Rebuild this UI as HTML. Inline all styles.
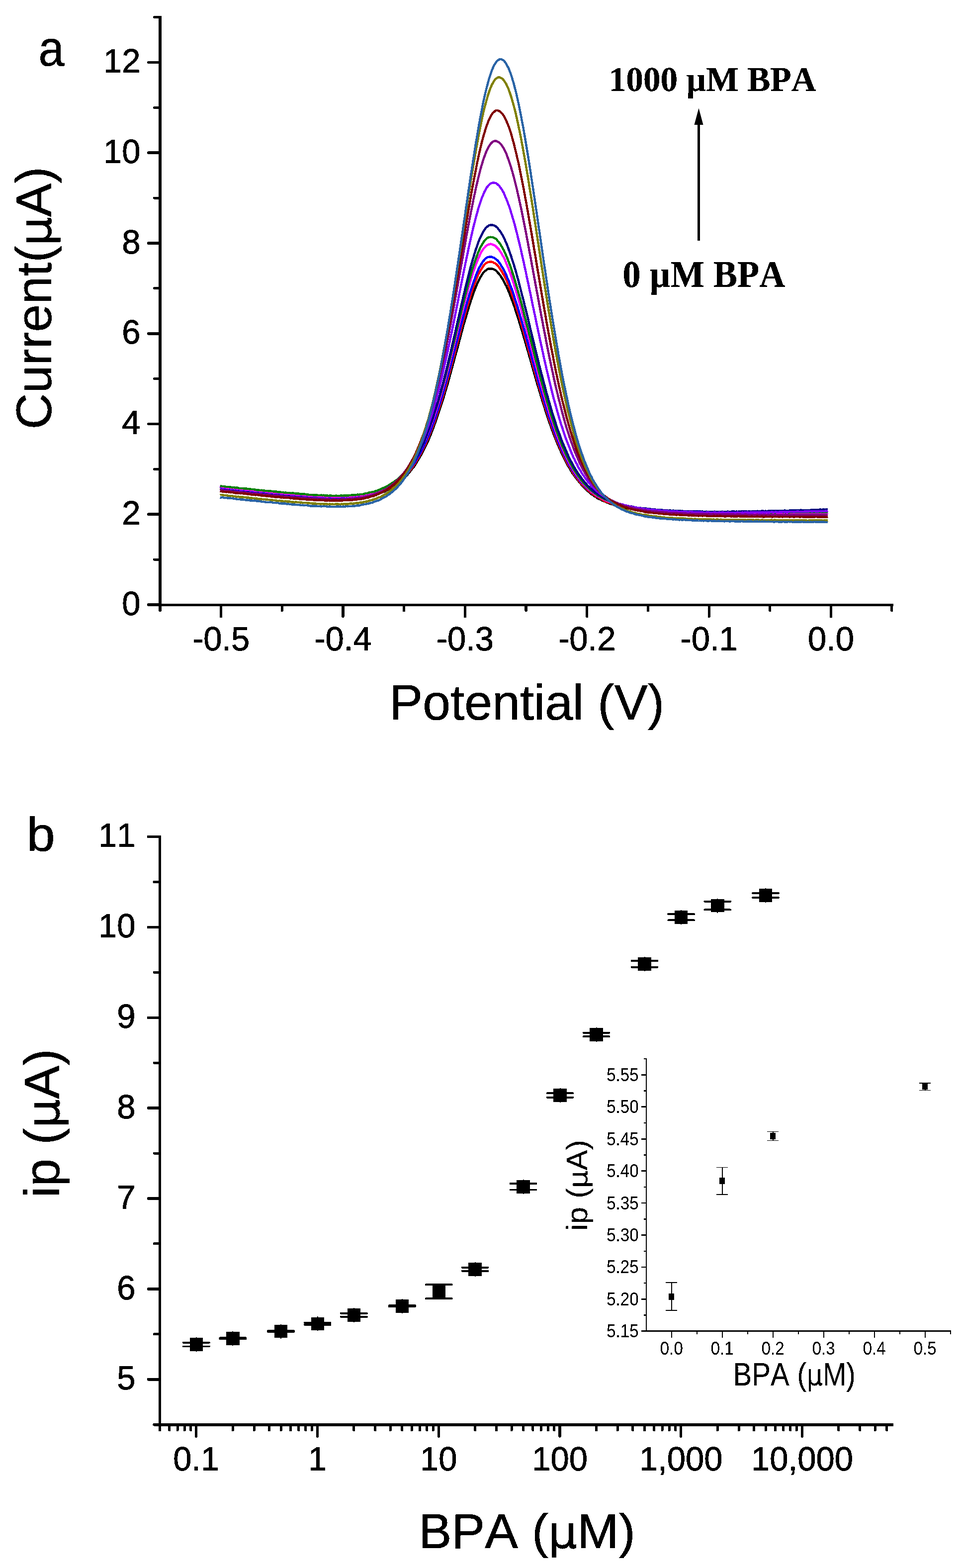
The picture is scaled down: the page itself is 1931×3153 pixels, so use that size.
<!DOCTYPE html>
<html lang="en"><head><meta charset="utf-8"><title>DPV response to BPA</title>
<style>
html,body{margin:0;padding:0;background:#fff;}
body{width:1931px;height:3153px;overflow:hidden;}
svg{display:block;font-family:"Liberation Sans",sans-serif;font-kerning:none;}
</style></head><body>
<svg width="1931" height="3153" viewBox="0 0 1931 3153">
<defs><filter id="al" x="0" y="0" width="1931" height="3153" filterUnits="userSpaceOnUse" color-interpolation-filters="sRGB"><feComponentTransfer><feFuncA type="discrete" tableValues="0 1"/></feComponentTransfer></filter></defs>
<rect width="1931" height="3153" fill="#fff"/>
<g shape-rendering="crispEdges">
<polyline fill="none" stroke="#000000" stroke-width="4.5" stroke-linejoin="round" points="442.6,983.1 445.1,983.3 447.5,984.0 449.9,983.7 452.4,984.4 454.8,984.5 457.3,984.5 459.7,985.1 462.2,984.9 464.6,985.6 467.1,985.5 469.5,985.8 472.0,986.3 474.4,986.9 476.9,986.6 479.3,986.9 481.8,987.5 484.2,988.1 486.7,988.0 489.1,988.1 491.6,988.9 494.0,988.3 496.5,989.3 498.9,989.0 501.4,989.1 503.8,989.3 506.3,989.8 508.7,990.5 511.2,990.1 513.6,990.8 516.1,991.1 518.5,991.1 521.0,991.5 523.4,991.3 525.9,991.5 528.4,991.9 530.8,992.6 533.3,992.6 535.7,992.7 538.2,993.2 540.6,993.4 543.1,993.5 545.5,994.1 548.0,994.3 550.4,994.1 552.9,994.7 555.3,994.9 557.8,995.4 560.2,995.5 562.7,995.3 565.1,996.2 567.6,995.7 570.0,996.2 572.5,996.7 574.9,996.4 577.4,996.9 579.8,996.7 582.3,997.5 584.7,997.8 587.2,997.8 589.6,998.3 592.1,998.0 594.5,998.6 597.0,998.7 599.4,998.9 601.9,999.0 604.3,999.6 606.8,999.8 609.2,999.6 611.7,1000.0 614.1,999.6 616.6,1000.4 619.0,1000.5 621.5,1001.0 623.9,1001.0 626.4,1000.7 628.8,1001.0 631.3,1001.4 633.7,1001.0 636.2,1001.5 638.6,1001.4 641.1,1001.5 643.5,1001.6 646.0,1002.4 648.4,1001.9 650.9,1002.1 653.3,1002.4 655.8,1002.9 658.2,1002.3 660.7,1002.7 663.1,1002.9 665.6,1003.3 668.0,1003.3 670.5,1003.4 672.9,1002.9 675.4,1003.1 677.8,1003.1 680.3,1003.5 682.7,1003.6 685.2,1002.9 687.6,1002.9 690.1,1002.9 692.5,1002.9 695.0,1003.0 697.4,1003.1 699.9,1002.7 702.3,1002.4 704.8,1002.6 707.2,1002.4 709.7,1002.5 712.1,1002.6 714.6,1002.2 717.0,1001.8 719.5,1001.7 721.9,1001.5 724.4,1000.7 726.8,1001.1 729.3,1000.7 731.7,1000.4 734.2,999.9 736.6,999.2 739.1,998.7 741.5,998.0 744.0,998.0 746.4,996.9 748.9,996.3 751.3,995.8 753.8,995.1 756.2,994.6 758.7,993.6 761.1,992.8 763.6,992.1 766.0,991.1 768.5,990.4 770.9,989.1 773.4,988.9 775.8,987.5 778.3,985.9 780.7,984.8 783.2,983.6 785.6,982.2 788.1,980.6 790.5,979.7 793.0,978.3 795.4,976.1 797.9,974.4 800.3,972.2 802.8,970.3 805.2,968.4 807.7,966.2 810.1,964.5 812.6,961.6 815.0,959.0 817.5,957.2 819.9,954.1 822.4,951.0 824.8,948.4 827.3,944.8 829.7,942.0 832.2,939.0 834.6,935.4 837.1,931.5 839.5,927.3 842.0,923.4 844.4,919.0 846.9,915.2 849.3,910.4 851.8,905.9 854.2,900.6 856.7,895.4 859.1,890.6 861.6,885.3 864.0,879.4 866.5,873.5 868.9,867.4 871.4,861.0 873.8,854.1 876.3,847.6 878.7,840.5 881.2,833.1 883.6,825.8 886.1,818.5 888.5,810.8 891.0,803.3 893.4,795.5 895.9,786.8 898.3,778.9 900.8,770.4 903.2,761.8 905.7,752.5 908.1,743.4 910.6,734.5 913.0,725.4 915.5,716.3 917.9,707.6 920.4,698.7 922.8,689.5 925.3,680.1 927.7,671.2 930.2,662.4 932.6,652.9 935.1,644.7 937.5,636.4 940.0,627.9 942.4,619.8 944.9,611.7 947.3,603.8 949.8,597.1 952.2,589.7 954.7,583.5 957.1,577.4 959.6,571.1 962.0,565.7 964.5,561.3 966.9,556.7 969.4,552.3 971.8,548.8 974.3,545.9 976.7,544.3 979.2,542.4 981.6,540.6 984.1,540.5 986.5,540.6 989.0,540.5 991.4,540.9 993.9,542.1 996.3,543.2 998.8,545.0 1001.2,548.3 1003.7,550.7 1006.1,553.8 1008.6,557.7 1011.0,561.2 1013.5,566.0 1015.9,570.6 1018.4,575.2 1020.8,580.6 1023.3,586.4 1025.7,592.3 1028.2,599.0 1030.6,605.3 1033.1,612.3 1035.5,619.1 1038.0,627.2 1040.4,634.2 1042.9,642.0 1045.3,650.0 1047.8,658.4 1050.2,666.1 1052.7,674.8 1055.1,682.8 1057.6,691.3 1060.0,699.8 1062.5,707.9 1064.9,716.9 1067.4,725.3 1069.8,733.7 1072.3,743.0 1074.7,751.0 1077.2,759.7 1079.6,768.4 1082.1,776.5 1084.5,784.6 1087.0,792.9 1089.4,801.0 1091.9,809.1 1094.3,816.3 1096.8,824.3 1099.2,831.6 1101.7,839.0 1104.1,846.6 1106.6,853.4 1109.0,860.3 1111.5,867.2 1113.9,873.8 1116.4,879.8 1118.8,886.1 1121.3,892.0 1123.7,897.8 1126.2,903.5 1128.6,908.8 1131.1,914.1 1133.5,919.1 1136.0,924.4 1138.4,928.9 1140.9,933.7 1143.3,938.1 1145.8,941.7 1148.2,946.0 1150.7,950.2 1153.1,953.9 1155.6,956.8 1158.0,960.2 1160.5,963.8 1162.9,966.6 1165.4,969.7 1167.8,972.4 1170.3,975.7 1172.7,978.4 1175.2,981.0 1177.6,982.7 1180.1,985.5 1182.5,987.6 1185.0,989.2 1187.4,991.9 1189.9,993.8 1192.3,994.9 1194.8,997.3 1197.2,998.4 1199.7,1000.0 1202.1,1001.9 1204.6,1003.2 1207.0,1003.9 1209.5,1005.4 1211.9,1006.7 1214.4,1007.6 1216.8,1008.6 1219.3,1009.7 1221.7,1011.1 1224.2,1011.4 1226.6,1012.8 1229.1,1013.5 1231.5,1013.9 1234.0,1015.0 1236.4,1016.0 1238.9,1016.6 1241.3,1016.8 1243.8,1018.3 1246.2,1018.7 1248.7,1019.5 1251.1,1019.3 1253.6,1019.9 1256.0,1020.3 1258.5,1021.4 1260.9,1021.4 1263.4,1021.7 1265.8,1022.4 1268.3,1023.3 1270.7,1023.6 1273.2,1023.4 1275.6,1023.7 1278.1,1024.8 1280.5,1024.8 1283.0,1025.2 1285.4,1025.0 1287.9,1025.2 1290.3,1026.1 1292.8,1026.1 1295.2,1026.1 1297.7,1027.1 1300.1,1027.1 1302.6,1027.4 1305.0,1027.0 1307.5,1027.9 1309.9,1027.4 1312.4,1028.3 1314.8,1028.2 1317.3,1028.3 1319.7,1028.6 1322.2,1029.1 1324.6,1028.7 1327.1,1028.7 1329.5,1029.3 1332.0,1029.1 1334.4,1029.2 1336.9,1029.4 1339.3,1029.4 1341.8,1029.7 1344.2,1029.9 1346.7,1030.0 1349.1,1030.5 1351.6,1030.2 1354.0,1030.5 1356.5,1030.3 1358.9,1030.6 1361.4,1030.4 1363.8,1030.7 1366.3,1030.6 1368.7,1031.3 1371.2,1031.2 1373.6,1031.0 1376.1,1031.3 1378.5,1031.8 1381.0,1031.1 1383.4,1031.8 1385.9,1031.6 1388.3,1031.7 1390.8,1032.1 1393.2,1031.7 1395.7,1031.9 1398.1,1032.1 1400.6,1032.4 1403.0,1031.9 1405.5,1032.4 1407.9,1032.3 1410.4,1032.3 1412.8,1032.2 1415.3,1032.2 1417.7,1031.9 1420.2,1032.1 1422.6,1032.0 1425.1,1032.7 1427.5,1032.3 1430.0,1032.3 1432.4,1032.2 1434.9,1032.9 1437.3,1033.0 1439.8,1032.9 1442.2,1032.5 1444.7,1032.5 1447.1,1032.6 1449.6,1032.8 1452.0,1032.6 1454.5,1032.9 1456.9,1032.7 1459.4,1033.4 1461.8,1033.4 1464.3,1033.1 1466.7,1032.8 1469.2,1033.5 1471.6,1032.9 1474.1,1033.0 1476.5,1032.7 1479.0,1033.1 1481.4,1033.2 1483.9,1033.2 1486.3,1033.0 1488.8,1033.3 1491.2,1032.9 1493.7,1033.1 1496.1,1033.0 1498.6,1033.3 1501.0,1033.0 1503.5,1033.0 1505.9,1033.3 1508.4,1033.2 1510.8,1033.6 1513.3,1033.5 1515.7,1033.7 1518.2,1033.7 1520.6,1033.8 1523.1,1033.9 1525.5,1033.5 1528.0,1033.5 1530.4,1034.1 1532.9,1033.3 1535.3,1033.9 1537.8,1033.8 1540.2,1033.3 1542.7,1034.0 1545.1,1034.1 1547.6,1033.9 1550.0,1034.0 1552.5,1034.1 1554.9,1033.5 1557.4,1033.8 1559.8,1033.8 1562.3,1034.2 1564.7,1034.1 1567.2,1034.2 1569.6,1034.0 1572.1,1034.3 1574.5,1034.1 1577.0,1034.1 1579.4,1033.7 1581.9,1033.6 1584.3,1033.7 1586.8,1033.9 1589.2,1033.7 1591.7,1034.3 1594.1,1034.1 1596.6,1034.2 1599.0,1034.2 1601.5,1034.3 1603.9,1034.1 1606.4,1033.7 1608.8,1034.4 1611.3,1034.4 1613.7,1034.2 1616.2,1034.2 1618.6,1034.3 1621.1,1033.8 1623.5,1034.4 1626.0,1034.0 1628.4,1033.9 1630.9,1034.1 1633.3,1034.5 1635.8,1034.0 1638.2,1034.5 1640.7,1034.8 1643.1,1034.3 1645.6,1034.3 1648.0,1034.4 1650.5,1034.6 1652.9,1034.7 1655.4,1034.5 1657.8,1034.6 1660.3,1034.1 1662.7,1034.2 1665.2,1034.3"/>
<polyline fill="none" stroke="#ff0000" stroke-width="4.5" stroke-linejoin="round" points="442.6,982.8 445.1,982.6 447.5,983.1 449.9,982.9 452.4,983.2 454.8,983.6 457.3,984.3 459.7,984.5 462.2,984.8 464.6,984.7 467.1,985.1 469.5,985.3 472.0,985.6 474.4,985.5 476.9,986.5 479.3,986.1 481.8,987.1 484.2,987.3 486.7,986.7 489.1,987.4 491.6,988.0 494.0,988.3 496.5,988.1 498.9,988.2 501.4,988.4 503.8,989.3 506.3,988.9 508.7,989.5 511.2,989.4 513.6,990.0 516.1,990.6 518.5,990.1 521.0,991.0 523.4,990.9 525.9,991.5 528.4,991.6 530.8,991.4 533.3,992.3 535.7,992.1 538.2,992.0 540.6,992.2 543.1,992.9 545.5,993.1 548.0,993.2 550.4,993.3 552.9,993.7 555.3,993.9 557.8,994.6 560.2,994.1 562.7,995.0 565.1,995.3 567.6,994.9 570.0,995.8 572.5,995.9 574.9,996.3 577.4,995.9 579.8,996.2 582.3,996.5 584.7,997.2 587.2,997.1 589.6,997.1 592.1,997.4 594.5,997.4 597.0,997.4 599.4,997.7 601.9,998.6 604.3,998.3 606.8,999.0 609.2,998.6 611.7,998.8 614.1,999.2 616.6,999.1 619.0,999.5 621.5,1000.2 623.9,1000.3 626.4,1000.4 628.8,1000.4 631.3,1000.8 633.7,1001.0 636.2,1000.8 638.6,1001.1 641.1,1000.6 643.5,1001.4 646.0,1001.2 648.4,1001.6 650.9,1001.7 653.3,1001.4 655.8,1001.3 658.2,1002.2 660.7,1001.6 663.1,1002.0 665.6,1001.9 668.0,1002.0 670.5,1002.4 672.9,1002.7 675.4,1002.1 677.8,1002.4 680.3,1002.1 682.7,1002.4 685.2,1002.2 687.6,1002.0 690.1,1001.9 692.5,1001.9 695.0,1002.5 697.4,1002.0 699.9,1001.7 702.3,1002.2 704.8,1002.2 707.2,1001.5 709.7,1001.1 712.1,1000.9 714.6,1000.7 717.0,1000.7 719.5,1000.2 721.9,1000.1 724.4,999.8 726.8,999.7 729.3,999.7 731.7,999.2 734.2,998.5 736.6,998.1 739.1,997.7 741.5,997.1 744.0,996.5 746.4,995.7 748.9,995.3 751.3,995.3 753.8,993.8 756.2,993.4 758.7,992.8 761.1,992.2 763.6,990.7 766.0,989.9 768.5,988.9 770.9,988.0 773.4,987.0 775.8,986.3 778.3,985.0 780.7,983.8 783.2,981.7 785.6,980.3 788.1,979.4 790.5,978.0 793.0,976.0 795.4,974.4 797.9,972.0 800.3,970.5 802.8,969.0 805.2,966.8 807.7,964.6 810.1,962.4 812.6,959.3 815.0,956.7 817.5,954.1 819.9,951.6 822.4,948.8 824.8,946.0 827.3,942.6 829.7,939.2 832.2,935.8 834.6,931.9 837.1,928.2 839.5,923.7 842.0,920.3 844.4,915.5 846.9,911.6 849.3,906.6 851.8,901.5 854.2,896.2 856.7,891.1 859.1,886.0 861.6,880.3 864.0,873.9 866.5,867.8 868.9,861.9 871.4,855.5 873.8,848.6 876.3,841.5 878.7,834.8 881.2,826.9 883.6,819.6 886.1,812.0 888.5,804.6 891.0,796.2 893.4,788.1 895.9,779.3 898.3,770.4 900.8,761.7 903.2,753.4 905.7,744.1 908.1,734.7 910.6,725.2 913.0,716.3 915.5,707.1 917.9,697.5 920.4,688.0 922.8,679.0 925.3,669.9 927.7,660.0 930.2,650.6 932.6,641.8 935.1,633.0 937.5,624.5 940.0,615.5 942.4,607.7 944.9,599.6 947.3,591.6 949.8,583.9 952.2,577.4 954.7,570.1 957.1,564.2 959.6,557.7 962.0,552.3 964.5,547.7 966.9,542.8 969.4,539.4 971.8,535.5 974.3,532.3 976.7,530.0 979.2,528.3 981.6,527.3 984.1,526.9 986.5,526.2 989.0,526.6 991.4,527.1 993.9,528.9 996.3,529.7 998.8,531.7 1001.2,534.1 1003.7,537.3 1006.1,541.0 1008.6,544.7 1011.0,548.6 1013.5,553.4 1015.9,558.2 1018.4,562.8 1020.8,568.3 1023.3,574.8 1025.7,580.9 1028.2,586.8 1030.6,594.1 1033.1,600.9 1035.5,608.2 1038.0,615.8 1040.4,623.4 1042.9,631.1 1045.3,639.5 1047.8,647.8 1050.2,656.8 1052.7,664.6 1055.1,673.9 1057.6,681.9 1060.0,690.8 1062.5,700.0 1064.9,708.9 1067.4,717.3 1069.8,725.8 1072.3,735.0 1074.7,743.6 1077.2,752.8 1079.6,760.8 1082.1,769.5 1084.5,778.5 1087.0,786.1 1089.4,794.7 1091.9,803.1 1094.3,811.1 1096.8,818.3 1099.2,826.0 1101.7,833.5 1104.1,841.7 1106.6,848.3 1109.0,855.8 1111.5,862.8 1113.9,868.9 1116.4,875.4 1118.8,882.3 1121.3,888.1 1123.7,893.7 1126.2,899.9 1128.6,905.1 1131.1,910.4 1133.5,915.4 1136.0,921.1 1138.4,926.1 1140.9,930.5 1143.3,935.2 1145.8,938.7 1148.2,943.0 1150.7,947.2 1153.1,951.4 1155.6,955.1 1158.0,958.1 1160.5,961.3 1162.9,964.7 1165.4,967.8 1167.8,971.1 1170.3,973.2 1172.7,976.5 1175.2,978.9 1177.6,981.4 1180.1,983.7 1182.5,985.8 1185.0,987.6 1187.4,989.6 1189.9,991.6 1192.3,993.7 1194.8,994.8 1197.2,996.6 1199.7,998.7 1202.1,999.7 1204.6,1000.9 1207.0,1002.3 1209.5,1004.0 1211.9,1005.0 1214.4,1006.8 1216.8,1007.8 1219.3,1008.9 1221.7,1009.3 1224.2,1010.1 1226.6,1011.0 1229.1,1012.2 1231.5,1013.2 1234.0,1013.8 1236.4,1014.3 1238.9,1015.2 1241.3,1016.0 1243.8,1016.7 1246.2,1017.4 1248.7,1018.1 1251.1,1018.5 1253.6,1018.6 1256.0,1019.7 1258.5,1019.7 1260.9,1020.4 1263.4,1020.7 1265.8,1021.5 1268.3,1021.4 1270.7,1021.8 1273.2,1022.2 1275.6,1022.5 1278.1,1023.5 1280.5,1023.6 1283.0,1023.7 1285.4,1024.0 1287.9,1024.9 1290.3,1024.7 1292.8,1024.7 1295.2,1025.5 1297.7,1025.6 1300.1,1026.2 1302.6,1025.6 1305.0,1026.2 1307.5,1026.7 1309.9,1026.9 1312.4,1027.2 1314.8,1026.6 1317.3,1027.0 1319.7,1027.1 1322.2,1027.3 1324.6,1028.2 1327.1,1028.0 1329.5,1028.5 1332.0,1028.1 1334.4,1028.7 1336.9,1028.5 1339.3,1028.4 1341.8,1029.0 1344.2,1029.3 1346.7,1028.7 1349.1,1029.2 1351.6,1029.4 1354.0,1029.1 1356.5,1029.3 1358.9,1029.2 1361.4,1029.4 1363.8,1029.5 1366.3,1029.9 1368.7,1030.1 1371.2,1029.8 1373.6,1029.7 1376.1,1030.0 1378.5,1030.4 1381.0,1030.1 1383.4,1030.2 1385.9,1030.2 1388.3,1030.8 1390.8,1030.7 1393.2,1030.3 1395.7,1030.4 1398.1,1030.7 1400.6,1030.9 1403.0,1031.0 1405.5,1030.6 1407.9,1030.7 1410.4,1031.2 1412.8,1031.0 1415.3,1030.9 1417.7,1031.0 1420.2,1031.6 1422.6,1031.1 1425.1,1031.4 1427.5,1031.2 1430.0,1031.3 1432.4,1031.7 1434.9,1031.9 1437.3,1031.4 1439.8,1031.2 1442.2,1031.8 1444.7,1031.3 1447.1,1031.2 1449.6,1032.0 1452.0,1031.6 1454.5,1032.0 1456.9,1031.6 1459.4,1032.1 1461.8,1031.7 1464.3,1031.5 1466.7,1031.4 1469.2,1031.9 1471.6,1032.0 1474.1,1032.2 1476.5,1031.5 1479.0,1032.0 1481.4,1031.8 1483.9,1031.9 1486.3,1031.6 1488.8,1031.8 1491.2,1032.0 1493.7,1032.4 1496.1,1031.7 1498.6,1032.0 1501.0,1032.3 1503.5,1032.5 1505.9,1031.8 1508.4,1031.7 1510.8,1032.5 1513.3,1032.5 1515.7,1032.1 1518.2,1031.7 1520.6,1032.5 1523.1,1032.0 1525.5,1032.5 1528.0,1032.3 1530.4,1032.5 1532.9,1031.9 1535.3,1032.4 1537.8,1031.9 1540.2,1032.1 1542.7,1032.5 1545.1,1032.5 1547.6,1031.9 1550.0,1032.0 1552.5,1032.1 1554.9,1032.2 1557.4,1032.1 1559.8,1031.9 1562.3,1032.0 1564.7,1032.5 1567.2,1032.6 1569.6,1031.8 1572.1,1032.3 1574.5,1032.5 1577.0,1031.9 1579.4,1032.6 1581.9,1031.9 1584.3,1032.4 1586.8,1032.3 1589.2,1032.4 1591.7,1032.1 1594.1,1032.2 1596.6,1032.4 1599.0,1032.2 1601.5,1032.5 1603.9,1032.3 1606.4,1032.3 1608.8,1031.9 1611.3,1032.4 1613.7,1032.3 1616.2,1032.1 1618.6,1032.6 1621.1,1032.6 1623.5,1032.3 1626.0,1032.0 1628.4,1032.3 1630.9,1032.0 1633.3,1032.0 1635.8,1032.3 1638.2,1032.0 1640.7,1032.3 1643.1,1032.4 1645.6,1031.9 1648.0,1032.5 1650.5,1032.0 1652.9,1032.6 1655.4,1032.6 1657.8,1032.4 1660.3,1032.0 1662.7,1032.4 1665.2,1032.3"/>
<polyline fill="none" stroke="#0000ff" stroke-width="4.5" stroke-linejoin="round" points="442.6,981.5 445.1,981.0 447.5,981.9 449.9,982.3 452.4,982.3 454.8,982.7 457.3,982.4 459.7,983.3 462.2,983.1 464.6,983.8 467.1,984.0 469.5,983.6 472.0,984.4 474.4,984.8 476.9,984.3 479.3,984.8 481.8,985.4 484.2,985.1 486.7,986.1 489.1,985.7 491.6,986.5 494.0,986.1 496.5,986.7 498.9,987.3 501.4,986.9 503.8,987.2 506.3,987.7 508.7,987.8 511.2,987.8 513.6,988.2 516.1,988.4 518.5,989.3 521.0,989.4 523.4,989.8 525.9,989.4 528.4,990.2 530.8,989.8 533.3,990.5 535.7,990.8 538.2,990.8 540.6,991.5 543.1,991.4 545.5,991.7 548.0,992.2 550.4,991.8 552.9,992.8 555.3,992.7 557.8,992.7 560.2,993.3 562.7,993.1 565.1,994.0 567.6,993.8 570.0,993.9 572.5,994.4 574.9,994.4 577.4,994.4 579.8,995.1 582.3,994.7 584.7,995.6 587.2,995.3 589.6,995.9 592.1,996.4 594.5,996.2 597.0,996.5 599.4,996.4 601.9,996.3 604.3,996.5 606.8,996.8 609.2,997.5 611.7,997.5 614.1,997.7 616.6,998.3 619.0,997.8 621.5,998.0 623.9,998.6 626.4,998.2 628.8,998.3 631.3,998.8 633.7,998.7 636.2,999.1 638.6,999.1 641.1,999.6 643.5,999.7 646.0,999.5 648.4,1000.0 650.9,1000.0 653.3,999.8 655.8,1000.6 658.2,1000.1 660.7,1000.1 663.1,1000.1 665.6,1000.7 668.0,1000.9 670.5,1000.9 672.9,1000.6 675.4,1000.5 677.8,1000.3 680.3,1000.9 682.7,1000.8 685.2,1000.6 687.6,1000.8 690.1,1000.6 692.5,1001.0 695.0,1000.8 697.4,1000.2 699.9,1000.7 702.3,999.8 704.8,1000.2 707.2,999.9 709.7,999.6 712.1,999.2 714.6,999.7 717.0,998.7 719.5,999.0 721.9,999.0 724.4,998.0 726.8,997.8 729.3,997.8 731.7,997.3 734.2,997.0 736.6,996.7 739.1,995.7 741.5,995.3 744.0,994.8 746.4,994.0 748.9,994.1 751.3,993.3 753.8,992.6 756.2,991.2 758.7,991.2 761.1,990.3 763.6,989.2 766.0,988.5 768.5,987.2 770.9,986.0 773.4,984.8 775.8,983.7 778.3,982.4 780.7,981.3 783.2,980.4 785.6,978.9 788.1,977.5 790.5,975.8 793.0,973.7 795.4,972.3 797.9,970.3 800.3,968.7 802.8,966.4 805.2,964.1 807.7,962.2 810.1,960.1 812.6,957.0 815.0,955.0 817.5,951.5 819.9,948.9 822.4,945.9 824.8,943.2 827.3,940.2 829.7,936.6 832.2,932.7 834.6,929.4 837.1,925.1 839.5,920.9 842.0,917.3 844.4,912.7 846.9,908.1 849.3,903.4 851.8,898.7 854.2,893.0 856.7,888.0 859.1,882.3 861.6,876.7 864.0,870.3 866.5,864.4 868.9,857.8 871.4,851.0 873.8,844.1 876.3,837.4 878.7,829.6 881.2,822.9 883.6,814.6 886.1,806.6 888.5,798.6 891.0,791.1 893.4,782.1 895.9,773.3 898.3,764.4 900.8,755.5 903.2,747.0 905.7,737.8 908.1,728.5 910.6,719.2 913.0,709.1 915.5,700.1 917.9,690.4 920.4,681.2 922.8,671.7 925.3,662.2 927.7,652.1 930.2,643.5 932.6,634.3 935.1,625.2 937.5,615.6 940.0,607.0 942.4,598.4 944.9,590.1 947.3,583.0 949.8,575.3 952.2,567.9 954.7,561.3 957.1,554.6 959.6,548.3 962.0,542.5 964.5,537.4 966.9,533.4 969.4,528.9 971.8,525.4 974.3,522.5 976.7,519.8 979.2,518.1 981.6,516.9 984.1,516.6 986.5,516.3 989.0,516.5 991.4,517.7 993.9,518.4 996.3,520.3 998.8,522.1 1001.2,524.1 1003.7,527.3 1006.1,530.7 1008.6,534.8 1011.0,538.5 1013.5,543.4 1015.9,548.2 1018.4,553.2 1020.8,559.4 1023.3,564.7 1025.7,571.7 1028.2,577.8 1030.6,584.5 1033.1,591.9 1035.5,599.8 1038.0,607.7 1040.4,614.7 1042.9,623.2 1045.3,631.5 1047.8,640.1 1050.2,648.1 1052.7,657.1 1055.1,665.7 1057.6,675.0 1060.0,683.4 1062.5,692.9 1064.9,701.3 1067.4,710.2 1069.8,719.6 1072.3,728.4 1074.7,736.9 1077.2,746.2 1079.6,754.5 1082.1,763.9 1084.5,772.4 1087.0,781.0 1089.4,789.2 1091.9,797.2 1094.3,805.4 1096.8,813.4 1099.2,821.6 1101.7,828.6 1104.1,836.8 1106.6,843.3 1109.0,850.7 1111.5,857.7 1113.9,865.0 1116.4,871.3 1118.8,877.6 1121.3,884.3 1123.7,889.7 1126.2,895.8 1128.6,901.5 1131.1,907.2 1133.5,912.4 1136.0,917.4 1138.4,922.1 1140.9,926.8 1143.3,931.2 1145.8,936.2 1148.2,940.2 1150.7,944.3 1153.1,947.7 1155.6,951.6 1158.0,955.5 1160.5,958.7 1162.9,961.5 1165.4,964.9 1167.8,968.3 1170.3,970.5 1172.7,973.2 1175.2,975.9 1177.6,978.7 1180.1,981.2 1182.5,982.8 1185.0,984.9 1187.4,987.0 1189.9,989.0 1192.3,991.1 1194.8,992.5 1197.2,994.3 1199.7,995.8 1202.1,998.0 1204.6,999.2 1207.0,1000.0 1209.5,1002.0 1211.9,1002.5 1214.4,1003.9 1216.8,1005.6 1219.3,1006.5 1221.7,1007.4 1224.2,1008.1 1226.6,1008.8 1229.1,1010.1 1231.5,1010.4 1234.0,1011.3 1236.4,1012.2 1238.9,1012.6 1241.3,1013.7 1243.8,1014.7 1246.2,1015.2 1248.7,1015.6 1251.1,1016.3 1253.6,1016.7 1256.0,1016.9 1258.5,1017.8 1260.9,1018.1 1263.4,1018.9 1265.8,1019.5 1268.3,1019.5 1270.7,1020.0 1273.2,1020.5 1275.6,1020.6 1278.1,1020.8 1280.5,1021.6 1283.0,1022.0 1285.4,1022.3 1287.9,1022.5 1290.3,1022.9 1292.8,1023.0 1295.2,1023.3 1297.7,1023.4 1300.1,1023.5 1302.6,1024.0 1305.0,1023.7 1307.5,1024.3 1309.9,1024.8 1312.4,1024.9 1314.8,1025.1 1317.3,1024.9 1319.7,1025.2 1322.2,1025.4 1324.6,1025.8 1327.1,1025.7 1329.5,1026.1 1332.0,1026.5 1334.4,1026.0 1336.9,1026.6 1339.3,1026.8 1341.8,1026.6 1344.2,1026.8 1346.7,1027.4 1349.1,1026.6 1351.6,1027.2 1354.0,1027.0 1356.5,1027.6 1358.9,1027.9 1361.4,1027.6 1363.8,1027.3 1366.3,1027.8 1368.7,1027.9 1371.2,1028.1 1373.6,1028.0 1376.1,1028.2 1378.5,1028.5 1381.0,1028.3 1383.4,1028.3 1385.9,1028.8 1388.3,1028.2 1390.8,1028.7 1393.2,1028.5 1395.7,1028.9 1398.1,1028.4 1400.6,1029.2 1403.0,1028.7 1405.5,1028.5 1407.9,1028.7 1410.4,1028.9 1412.8,1028.6 1415.3,1029.0 1417.7,1029.0 1420.2,1029.3 1422.6,1029.1 1425.1,1029.0 1427.5,1029.0 1430.0,1029.5 1432.4,1029.7 1434.9,1029.4 1437.3,1029.2 1439.8,1029.7 1442.2,1029.4 1444.7,1029.3 1447.1,1029.2 1449.6,1029.8 1452.0,1029.9 1454.5,1029.7 1456.9,1029.6 1459.4,1029.7 1461.8,1029.4 1464.3,1030.1 1466.7,1029.6 1469.2,1029.9 1471.6,1030.1 1474.1,1030.1 1476.5,1029.8 1479.0,1029.6 1481.4,1029.9 1483.9,1029.5 1486.3,1030.2 1488.8,1029.8 1491.2,1030.2 1493.7,1029.7 1496.1,1029.8 1498.6,1029.7 1501.0,1029.9 1503.5,1029.7 1505.9,1029.5 1508.4,1030.2 1510.8,1029.8 1513.3,1029.8 1515.7,1029.9 1518.2,1030.0 1520.6,1030.0 1523.1,1030.2 1525.5,1030.2 1528.0,1030.0 1530.4,1030.5 1532.9,1030.4 1535.3,1029.7 1537.8,1030.4 1540.2,1030.5 1542.7,1030.4 1545.1,1029.8 1547.6,1030.4 1550.0,1030.3 1552.5,1029.7 1554.9,1029.7 1557.4,1030.6 1559.8,1030.3 1562.3,1030.0 1564.7,1029.8 1567.2,1029.9 1569.6,1030.0 1572.1,1030.5 1574.5,1030.1 1577.0,1029.9 1579.4,1030.6 1581.9,1030.5 1584.3,1029.9 1586.8,1030.6 1589.2,1030.3 1591.7,1030.5 1594.1,1030.4 1596.6,1030.6 1599.0,1030.5 1601.5,1030.6 1603.9,1030.0 1606.4,1030.4 1608.8,1030.3 1611.3,1030.5 1613.7,1030.2 1616.2,1030.6 1618.6,1030.3 1621.1,1030.1 1623.5,1030.0 1626.0,1029.9 1628.4,1030.3 1630.9,1029.9 1633.3,1030.2 1635.8,1030.0 1638.2,1030.3 1640.7,1030.3 1643.1,1030.3 1645.6,1030.6 1648.0,1029.8 1650.5,1030.6 1652.9,1030.3 1655.4,1030.3 1657.8,1030.4 1660.3,1030.6 1662.7,1030.2 1665.2,1030.2"/>
<polyline fill="none" stroke="#ff00ff" stroke-width="4.5" stroke-linejoin="round" points="442.6,979.5 445.1,979.0 447.5,979.7 449.9,980.0 452.4,979.7 454.8,980.5 457.3,980.8 459.7,981.3 462.2,981.0 464.6,981.8 467.1,981.7 469.5,981.9 472.0,982.5 474.4,982.0 476.9,982.9 479.3,983.0 481.8,983.0 484.2,983.8 486.7,983.6 489.1,983.9 491.6,984.2 494.0,984.7 496.5,984.4 498.9,984.9 501.4,985.1 503.8,985.5 506.3,986.0 508.7,985.8 511.2,986.5 513.6,986.4 516.1,986.7 518.5,986.7 521.0,987.2 523.4,987.9 525.9,987.8 528.4,988.2 530.8,988.0 533.3,988.3 535.7,988.5 538.2,989.0 540.6,989.3 543.1,989.6 545.5,989.2 548.0,990.1 550.4,990.4 552.9,990.4 555.3,990.2 557.8,990.6 560.2,990.6 562.7,991.0 565.1,991.9 567.6,991.8 570.0,992.1 572.5,992.4 574.9,992.8 577.4,992.7 579.8,992.9 582.3,993.2 584.7,993.5 587.2,993.6 589.6,993.9 592.1,993.7 594.5,994.3 597.0,994.3 599.4,994.8 601.9,994.4 604.3,994.6 606.8,994.7 609.2,995.6 611.7,995.9 614.1,995.8 616.6,995.7 619.0,996.3 621.5,996.5 623.9,996.4 626.4,996.3 628.8,996.5 631.3,996.8 633.7,996.8 636.2,997.1 638.6,997.4 641.1,997.8 643.5,997.2 646.0,997.7 648.4,997.4 650.9,997.6 653.3,998.3 655.8,998.2 658.2,998.6 660.7,998.2 663.1,997.9 665.6,998.3 668.0,998.5 670.5,998.9 672.9,999.0 675.4,998.5 677.8,998.5 680.3,998.2 682.7,998.7 685.2,998.3 687.6,998.2 690.1,998.0 692.5,998.0 695.0,998.5 697.4,997.9 699.9,998.5 702.3,997.6 704.8,998.2 707.2,997.4 709.7,997.1 712.1,997.5 714.6,996.9 717.0,997.1 719.5,996.3 721.9,995.9 724.4,996.2 726.8,995.8 729.3,995.6 731.7,995.1 734.2,994.1 736.6,994.1 739.1,993.7 741.5,992.9 744.0,992.8 746.4,991.6 748.9,991.6 751.3,990.7 753.8,989.3 756.2,988.6 758.7,988.3 761.1,987.6 763.6,986.1 766.0,985.3 768.5,984.7 770.9,983.1 773.4,982.6 775.8,981.0 778.3,979.4 780.7,978.3 783.2,977.1 785.6,975.5 788.1,974.2 790.5,972.1 793.0,970.9 795.4,968.7 797.9,967.1 800.3,965.0 802.8,962.7 805.2,960.5 807.7,958.5 810.1,956.2 812.6,953.5 815.0,950.7 817.5,947.6 819.9,944.4 822.4,942.2 824.8,938.7 827.3,935.4 829.7,931.5 832.2,928.0 834.6,924.5 837.1,920.3 839.5,915.9 842.0,911.2 844.4,906.7 846.9,902.4 849.3,896.9 851.8,892.0 854.2,886.6 856.7,881.2 859.1,875.4 861.6,868.9 864.0,862.4 866.5,856.1 868.9,849.6 871.4,842.8 873.8,835.9 876.3,828.6 878.7,820.2 881.2,813.2 883.6,805.1 886.1,796.9 888.5,788.2 891.0,779.3 893.4,771.0 895.9,762.0 898.3,752.7 900.8,743.6 903.2,733.6 905.7,723.8 908.1,714.5 910.6,704.9 913.0,694.4 915.5,685.0 917.9,675.2 920.4,664.6 922.8,654.9 925.3,645.0 927.7,635.0 930.2,625.0 932.6,615.3 935.1,606.3 937.5,597.0 940.0,587.6 942.4,578.3 944.9,570.4 947.3,562.0 949.8,553.6 952.2,546.2 954.7,539.3 957.1,532.5 959.6,525.8 962.0,519.8 964.5,514.5 966.9,509.3 969.4,504.9 971.8,501.1 974.3,498.3 976.7,495.4 979.2,493.5 981.6,492.0 984.1,491.3 986.5,490.7 989.0,490.8 991.4,492.3 993.9,492.9 996.3,494.2 998.8,496.7 1001.2,499.4 1003.7,501.8 1006.1,505.6 1008.6,509.3 1011.0,513.7 1013.5,518.0 1015.9,523.2 1018.4,529.5 1020.8,535.3 1023.3,541.2 1025.7,547.9 1028.2,554.6 1030.6,562.3 1033.1,569.5 1035.5,577.7 1038.0,585.6 1040.4,593.9 1042.9,602.5 1045.3,610.6 1047.8,619.2 1050.2,628.3 1052.7,637.4 1055.1,646.5 1057.6,655.8 1060.0,665.6 1062.5,675.3 1064.9,684.4 1067.4,694.3 1069.8,703.7 1072.3,712.4 1074.7,722.3 1077.2,731.4 1079.6,740.4 1082.1,750.4 1084.5,758.8 1087.0,768.1 1089.4,777.0 1091.9,786.0 1094.3,794.3 1096.8,802.5 1099.2,810.8 1101.7,818.7 1104.1,827.3 1106.6,835.1 1109.0,842.0 1111.5,849.2 1113.9,856.6 1116.4,863.6 1118.8,870.9 1121.3,877.5 1123.7,883.8 1126.2,889.3 1128.6,896.0 1131.1,901.7 1133.5,907.2 1136.0,912.9 1138.4,917.2 1140.9,922.3 1143.3,927.7 1145.8,932.5 1148.2,936.7 1150.7,940.6 1153.1,945.0 1155.6,949.0 1158.0,952.2 1160.5,956.0 1162.9,959.4 1165.4,962.5 1167.8,966.0 1170.3,968.7 1172.7,971.6 1175.2,974.3 1177.6,977.3 1180.1,979.2 1182.5,982.2 1185.0,984.0 1187.4,986.0 1189.9,988.8 1192.3,990.1 1194.8,992.6 1197.2,994.3 1199.7,996.0 1202.1,996.9 1204.6,998.7 1207.0,999.8 1209.5,1001.9 1211.9,1003.1 1214.4,1004.2 1216.8,1005.2 1219.3,1006.2 1221.7,1007.7 1224.2,1008.4 1226.6,1009.5 1229.1,1010.0 1231.5,1010.9 1234.0,1011.6 1236.4,1013.0 1238.9,1013.6 1241.3,1013.9 1243.8,1015.2 1246.2,1015.4 1248.7,1016.1 1251.1,1016.5 1253.6,1017.1 1256.0,1018.2 1258.5,1018.3 1260.9,1018.6 1263.4,1019.4 1265.8,1019.7 1268.3,1020.6 1270.7,1020.3 1273.2,1021.5 1275.6,1021.1 1278.1,1022.2 1280.5,1022.3 1283.0,1022.2 1285.4,1022.8 1287.9,1022.9 1290.3,1023.2 1292.8,1023.5 1295.2,1023.9 1297.7,1024.7 1300.1,1025.0 1302.6,1025.1 1305.0,1024.6 1307.5,1025.0 1309.9,1025.8 1312.4,1025.3 1314.8,1026.1 1317.3,1025.9 1319.7,1026.7 1322.2,1026.0 1324.6,1026.9 1327.1,1026.6 1329.5,1026.6 1332.0,1026.6 1334.4,1027.5 1336.9,1027.4 1339.3,1027.2 1341.8,1027.6 1344.2,1028.2 1346.7,1027.7 1349.1,1028.1 1351.6,1027.8 1354.0,1028.0 1356.5,1028.6 1358.9,1028.7 1361.4,1028.3 1363.8,1028.3 1366.3,1028.4 1368.7,1029.0 1371.2,1029.0 1373.6,1028.8 1376.1,1028.9 1378.5,1029.3 1381.0,1029.5 1383.4,1029.6 1385.9,1029.5 1388.3,1029.2 1390.8,1029.2 1393.2,1029.8 1395.7,1029.6 1398.1,1030.0 1400.6,1029.4 1403.0,1030.1 1405.5,1029.8 1407.9,1030.3 1410.4,1030.4 1412.8,1030.1 1415.3,1029.7 1417.7,1030.5 1420.2,1030.2 1422.6,1030.6 1425.1,1030.1 1427.5,1030.1 1430.0,1030.7 1432.4,1030.3 1434.9,1030.1 1437.3,1030.4 1439.8,1030.6 1442.2,1030.1 1444.7,1030.6 1447.1,1030.6 1449.6,1030.7 1452.0,1030.3 1454.5,1030.9 1456.9,1031.0 1459.4,1031.1 1461.8,1030.6 1464.3,1031.0 1466.7,1030.7 1469.2,1031.1 1471.6,1030.5 1474.1,1031.2 1476.5,1031.3 1479.0,1030.9 1481.4,1031.0 1483.9,1031.0 1486.3,1031.0 1488.8,1030.6 1491.2,1031.5 1493.7,1030.8 1496.1,1030.8 1498.6,1030.7 1501.0,1030.9 1503.5,1031.4 1505.9,1030.7 1508.4,1030.8 1510.8,1031.3 1513.3,1030.9 1515.7,1030.8 1518.2,1031.3 1520.6,1031.3 1523.1,1031.3 1525.5,1031.4 1528.0,1030.9 1530.4,1031.6 1532.9,1031.5 1535.3,1030.9 1537.8,1031.0 1540.2,1031.3 1542.7,1031.3 1545.1,1031.1 1547.6,1031.0 1550.0,1031.3 1552.5,1031.0 1554.9,1031.5 1557.4,1031.7 1559.8,1031.1 1562.3,1031.5 1564.7,1031.6 1567.2,1031.1 1569.6,1031.7 1572.1,1031.8 1574.5,1031.3 1577.0,1031.4 1579.4,1031.8 1581.9,1031.5 1584.3,1031.4 1586.8,1031.9 1589.2,1031.7 1591.7,1031.3 1594.1,1031.3 1596.6,1031.4 1599.0,1031.5 1601.5,1032.0 1603.9,1031.8 1606.4,1031.9 1608.8,1031.8 1611.3,1031.9 1613.7,1031.2 1616.2,1031.6 1618.6,1032.0 1621.1,1032.0 1623.5,1031.4 1626.0,1031.5 1628.4,1031.7 1630.9,1031.5 1633.3,1031.6 1635.8,1031.2 1638.2,1031.6 1640.7,1031.6 1643.1,1031.2 1645.6,1031.3 1648.0,1032.1 1650.5,1031.9 1652.9,1032.0 1655.4,1031.8 1657.8,1031.9 1660.3,1032.0 1662.7,1032.0 1665.2,1031.3"/>
<polyline fill="none" stroke="#008000" stroke-width="4.5" stroke-linejoin="round" points="442.6,977.5 445.1,977.5 447.5,978.1 449.9,978.0 452.4,978.5 454.8,979.1 457.3,979.1 459.7,979.0 462.2,979.5 464.6,979.7 467.1,980.4 469.5,980.0 472.0,980.3 474.4,980.9 476.9,980.6 479.3,981.3 481.8,981.9 484.2,981.8 486.7,981.8 489.1,982.2 491.6,982.5 494.0,982.4 496.5,982.7 498.9,982.9 501.4,983.3 503.8,983.7 506.3,983.8 508.7,984.0 511.2,984.1 513.6,984.8 516.1,985.3 518.5,985.4 521.0,985.6 523.4,985.9 525.9,985.7 528.4,986.4 530.8,986.5 533.3,986.8 535.7,987.1 538.2,987.2 540.6,987.3 543.1,987.5 545.5,987.7 548.0,988.2 550.4,988.3 552.9,988.7 555.3,988.4 557.8,989.0 560.2,989.7 562.7,989.3 565.1,989.9 567.6,990.0 570.0,990.1 572.5,990.9 574.9,990.5 577.4,991.2 579.8,990.8 582.3,991.0 584.7,991.9 587.2,991.7 589.6,991.6 592.1,992.1 594.5,992.4 597.0,992.8 599.4,992.5 601.9,992.8 604.3,993.6 606.8,993.6 609.2,993.3 611.7,993.6 614.1,993.8 616.6,994.3 619.0,994.4 621.5,994.8 623.9,995.0 626.4,994.8 628.8,995.2 631.3,995.4 633.7,995.5 636.2,995.4 638.6,995.8 641.1,995.9 643.5,996.2 646.0,995.6 648.4,996.4 650.9,995.7 653.3,996.5 655.8,996.5 658.2,996.5 660.7,997.0 663.1,996.7 665.6,996.6 668.0,997.0 670.5,997.1 672.9,996.9 675.4,996.7 677.8,996.8 680.3,996.8 682.7,997.0 685.2,996.6 687.6,996.7 690.1,996.8 692.5,996.5 695.0,996.4 697.4,996.7 699.9,996.7 702.3,996.2 704.8,996.0 707.2,995.6 709.7,995.6 712.1,995.2 714.6,995.4 717.0,995.1 719.5,994.4 721.9,994.9 724.4,994.0 726.8,994.1 729.3,993.8 731.7,993.5 734.2,992.3 736.6,992.1 739.1,992.0 741.5,990.7 744.0,990.1 746.4,990.0 748.9,989.3 751.3,989.0 753.8,988.1 756.2,987.2 758.7,986.8 761.1,985.5 763.6,984.5 766.0,983.7 768.5,982.4 770.9,981.3 773.4,980.4 775.8,978.9 778.3,978.2 780.7,976.6 783.2,975.1 785.6,973.2 788.1,971.8 790.5,970.2 793.0,968.6 795.4,966.8 797.9,965.1 800.3,963.2 802.8,960.6 805.2,958.3 807.7,956.1 810.1,954.0 812.6,950.8 815.0,948.3 817.5,945.7 819.9,942.1 822.4,939.1 824.8,936.4 827.3,932.9 829.7,929.0 832.2,924.9 834.6,921.6 837.1,917.4 839.5,913.2 842.0,908.9 844.4,904.1 846.9,898.8 849.3,893.5 851.8,888.4 854.2,883.1 856.7,877.4 859.1,871.2 861.6,865.1 864.0,859.1 866.5,852.5 868.9,845.5 871.4,839.0 873.8,831.4 876.3,823.4 878.7,816.0 881.2,808.4 883.6,799.8 886.1,791.7 888.5,782.5 891.0,774.0 893.4,765.4 895.9,756.0 898.3,746.7 900.8,736.8 903.2,727.4 905.7,717.6 908.1,707.4 910.6,697.7 913.0,687.5 915.5,677.7 917.9,667.1 920.4,656.7 922.8,646.3 925.3,636.1 927.7,626.5 930.2,615.9 932.6,606.0 935.1,596.2 937.5,587.0 940.0,577.8 942.4,568.5 944.9,559.8 947.3,550.5 949.8,542.3 952.2,535.0 954.7,527.1 957.1,520.4 959.6,513.5 962.0,507.1 964.5,501.6 966.9,496.3 969.4,492.4 971.8,488.1 974.3,484.4 976.7,481.7 979.2,479.4 981.6,477.5 984.1,477.3 986.5,476.6 989.0,477.1 991.4,477.1 993.9,478.3 996.3,479.5 998.8,481.3 1001.2,484.6 1003.7,487.4 1006.1,490.4 1008.6,494.8 1011.0,499.0 1013.5,503.3 1015.9,508.7 1018.4,514.6 1020.8,520.2 1023.3,526.9 1025.7,533.0 1028.2,540.2 1030.6,547.8 1033.1,555.0 1035.5,563.0 1038.0,571.7 1040.4,579.8 1042.9,588.8 1045.3,597.1 1047.8,606.1 1050.2,615.4 1052.7,624.6 1055.1,634.8 1057.6,643.7 1060.0,653.5 1062.5,662.8 1064.9,672.9 1067.4,682.5 1069.8,692.2 1072.3,701.6 1074.7,711.3 1077.2,721.5 1079.6,730.6 1082.1,740.0 1084.5,749.3 1087.0,758.6 1089.4,767.7 1091.9,776.5 1094.3,785.9 1096.8,794.3 1099.2,802.7 1101.7,811.6 1104.1,819.2 1106.6,827.4 1109.0,835.7 1111.5,842.7 1113.9,850.4 1116.4,857.9 1118.8,864.9 1121.3,871.1 1123.7,877.9 1126.2,884.7 1128.6,890.5 1131.1,897.0 1133.5,902.1 1136.0,908.4 1138.4,913.4 1140.9,918.3 1143.3,923.5 1145.8,928.0 1148.2,933.1 1150.7,937.1 1153.1,941.9 1155.6,945.7 1158.0,949.4 1160.5,953.0 1162.9,956.9 1165.4,959.9 1167.8,963.8 1170.3,966.2 1172.7,969.5 1175.2,972.4 1177.6,974.8 1180.1,977.8 1182.5,979.9 1185.0,982.5 1187.4,984.6 1189.9,986.5 1192.3,988.6 1194.8,990.2 1197.2,992.1 1199.7,994.4 1202.1,995.6 1204.6,997.4 1207.0,998.4 1209.5,1000.2 1211.9,1001.4 1214.4,1002.8 1216.8,1003.8 1219.3,1004.8 1221.7,1006.1 1224.2,1007.0 1226.6,1007.9 1229.1,1009.4 1231.5,1009.9 1234.0,1010.9 1236.4,1012.1 1238.9,1012.8 1241.3,1013.6 1243.8,1014.3 1246.2,1014.3 1248.7,1015.1 1251.1,1015.5 1253.6,1016.6 1256.0,1017.2 1258.5,1017.4 1260.9,1018.0 1263.4,1018.7 1265.8,1019.2 1268.3,1019.2 1270.7,1020.2 1273.2,1020.2 1275.6,1020.8 1278.1,1020.8 1280.5,1021.1 1283.0,1022.1 1285.4,1022.3 1287.9,1022.6 1290.3,1022.3 1292.8,1022.6 1295.2,1023.0 1297.7,1023.3 1300.1,1023.6 1302.6,1024.0 1305.0,1023.9 1307.5,1024.4 1309.9,1024.9 1312.4,1024.7 1314.8,1025.5 1317.3,1025.4 1319.7,1025.8 1322.2,1025.5 1324.6,1025.9 1327.1,1026.3 1329.5,1026.1 1332.0,1026.0 1334.4,1026.9 1336.9,1027.0 1339.3,1026.7 1341.8,1026.6 1344.2,1027.5 1346.7,1027.4 1349.1,1027.0 1351.6,1027.3 1354.0,1027.3 1356.5,1028.0 1358.9,1027.6 1361.4,1028.3 1363.8,1028.3 1366.3,1027.8 1368.7,1028.4 1371.2,1028.3 1373.6,1028.7 1376.1,1028.8 1378.5,1028.4 1381.0,1028.3 1383.4,1029.2 1385.9,1028.8 1388.3,1029.3 1390.8,1029.1 1393.2,1029.2 1395.7,1029.4 1398.1,1029.3 1400.6,1029.2 1403.0,1028.9 1405.5,1029.5 1407.9,1029.3 1410.4,1029.4 1412.8,1029.9 1415.3,1029.2 1417.7,1029.8 1420.2,1029.2 1422.6,1029.8 1425.1,1029.9 1427.5,1029.5 1430.0,1029.8 1432.4,1030.2 1434.9,1029.9 1437.3,1029.9 1439.8,1029.6 1442.2,1029.5 1444.7,1029.8 1447.1,1029.8 1449.6,1029.7 1452.0,1029.8 1454.5,1029.7 1456.9,1030.2 1459.4,1030.2 1461.8,1029.8 1464.3,1029.8 1466.7,1030.1 1469.2,1030.0 1471.6,1030.5 1474.1,1030.0 1476.5,1029.9 1479.0,1030.5 1481.4,1029.8 1483.9,1030.2 1486.3,1030.0 1488.8,1030.4 1491.2,1030.2 1493.7,1030.4 1496.1,1029.9 1498.6,1030.3 1501.0,1030.3 1503.5,1030.1 1505.9,1030.4 1508.4,1030.5 1510.8,1029.8 1513.3,1030.0 1515.7,1030.0 1518.2,1029.9 1520.6,1029.8 1523.1,1030.0 1525.5,1029.9 1528.0,1030.3 1530.4,1030.1 1532.9,1029.8 1535.3,1030.0 1537.8,1030.1 1540.2,1030.0 1542.7,1029.8 1545.1,1029.7 1547.6,1029.7 1550.0,1030.6 1552.5,1030.3 1554.9,1029.7 1557.4,1030.3 1559.8,1030.5 1562.3,1030.1 1564.7,1029.7 1567.2,1030.0 1569.6,1030.0 1572.1,1029.8 1574.5,1030.1 1577.0,1029.6 1579.4,1030.4 1581.9,1030.1 1584.3,1030.1 1586.8,1030.4 1589.2,1030.1 1591.7,1029.7 1594.1,1029.7 1596.6,1029.6 1599.0,1029.5 1601.5,1030.1 1603.9,1030.2 1606.4,1029.7 1608.8,1029.6 1611.3,1030.0 1613.7,1030.1 1616.2,1030.2 1618.6,1029.5 1621.1,1030.1 1623.5,1030.1 1626.0,1030.0 1628.4,1029.6 1630.9,1029.5 1633.3,1030.0 1635.8,1029.5 1638.2,1029.6 1640.7,1029.7 1643.1,1029.5 1645.6,1029.9 1648.0,1029.4 1650.5,1029.2 1652.9,1029.7 1655.4,1029.7 1657.8,1029.9 1660.3,1029.7 1662.7,1029.9 1665.2,1029.9"/>
<polyline fill="none" stroke="#000080" stroke-width="4.5" stroke-linejoin="round" points="442.6,984.8 445.1,985.0 447.5,985.0 449.9,985.4 452.4,985.9 454.8,985.7 457.3,986.5 459.7,986.3 462.2,986.8 464.6,987.5 467.1,987.0 469.5,987.2 472.0,987.8 474.4,987.8 476.9,988.6 479.3,988.2 481.8,989.2 484.2,989.4 486.7,989.6 489.1,989.6 491.6,989.7 494.0,990.3 496.5,990.4 498.9,990.6 501.4,990.7 503.8,991.1 506.3,991.5 508.7,991.9 511.2,992.2 513.6,991.8 516.1,992.2 518.5,992.6 521.0,992.9 523.4,993.0 525.9,993.1 528.4,993.2 530.8,993.7 533.3,994.0 535.7,994.8 538.2,994.9 540.6,995.1 543.1,995.5 545.5,995.7 548.0,995.6 550.4,996.0 552.9,995.6 555.3,996.4 557.8,996.6 560.2,996.5 562.7,997.0 565.1,997.6 567.6,997.4 570.0,997.7 572.5,997.6 574.9,997.9 577.4,998.6 579.8,998.1 582.3,998.4 584.7,999.1 587.2,999.1 589.6,999.0 592.1,999.7 594.5,999.6 597.0,1000.0 599.4,1000.1 601.9,1000.4 604.3,1000.6 606.8,1000.6 609.2,1000.6 611.7,1000.8 614.1,1001.6 616.6,1001.5 619.0,1001.3 621.5,1002.1 623.9,1001.7 626.4,1001.8 628.8,1002.3 631.3,1002.2 633.7,1002.6 636.2,1002.8 638.6,1002.6 641.1,1003.0 643.5,1002.8 646.0,1003.2 648.4,1003.4 650.9,1003.1 653.3,1003.4 655.8,1003.2 658.2,1003.6 660.7,1004.1 663.1,1003.9 665.6,1004.1 668.0,1004.2 670.5,1003.6 672.9,1004.4 675.4,1004.2 677.8,1003.7 680.3,1004.3 682.7,1003.9 685.2,1003.7 687.6,1004.3 690.1,1003.9 692.5,1004.0 695.0,1003.4 697.4,1003.8 699.9,1003.1 702.3,1003.1 704.8,1003.1 707.2,1002.6 709.7,1002.9 712.1,1002.3 714.6,1002.2 717.0,1002.3 719.5,1001.7 721.9,1001.8 724.4,1001.2 726.8,1001.1 729.3,1000.4 731.7,1000.3 734.2,999.8 736.6,998.7 739.1,998.7 741.5,997.8 744.0,997.6 746.4,996.9 748.9,996.4 751.3,995.0 753.8,994.5 756.2,994.0 758.7,993.4 761.1,992.2 763.6,990.7 766.0,990.2 768.5,988.7 770.9,987.9 773.4,987.0 775.8,985.1 778.3,984.5 780.7,982.9 783.2,981.0 785.6,979.4 788.1,978.0 790.5,976.6 793.0,974.6 795.4,972.3 797.9,970.2 800.3,968.1 802.8,966.5 805.2,963.7 807.7,961.5 810.1,958.7 812.6,956.4 815.0,953.3 817.5,950.1 819.9,947.7 822.4,944.1 824.8,940.8 827.3,937.3 829.7,933.7 832.2,929.0 834.6,925.2 837.1,920.7 839.5,916.6 842.0,912.2 844.4,907.3 846.9,901.5 849.3,896.4 851.8,891.4 854.2,885.6 856.7,879.4 859.1,873.2 861.6,866.5 864.0,860.5 866.5,853.2 868.9,846.5 871.4,838.9 873.8,830.8 876.3,823.1 878.7,814.9 881.2,807.2 883.6,798.3 886.1,789.0 888.5,780.1 891.0,771.0 893.4,761.6 895.9,752.0 898.3,742.0 900.8,731.9 903.2,721.4 905.7,711.6 908.1,700.9 910.6,690.0 913.0,679.7 915.5,669.5 917.9,657.8 920.4,647.1 922.8,636.7 925.3,625.6 927.7,614.8 930.2,604.4 932.6,593.6 935.1,583.5 937.5,573.2 940.0,563.6 942.4,553.9 944.9,543.5 947.3,534.8 949.8,526.1 952.2,517.7 954.7,509.5 957.1,501.7 959.6,494.5 962.0,487.5 964.5,481.3 966.9,476.1 969.4,471.0 971.8,466.6 974.3,462.5 976.7,458.8 979.2,456.6 981.6,454.6 984.1,453.0 986.5,452.5 989.0,452.2 991.4,452.7 993.9,453.4 996.3,454.4 998.8,456.5 1001.2,458.9 1003.7,462.3 1006.1,465.2 1008.6,469.0 1011.0,473.2 1013.5,477.9 1015.9,483.2 1018.4,488.7 1020.8,494.6 1023.3,501.9 1025.7,508.3 1028.2,515.5 1030.6,523.2 1033.1,530.8 1035.5,538.9 1038.0,547.2 1040.4,556.2 1042.9,565.1 1045.3,574.7 1047.8,583.9 1050.2,593.8 1052.7,602.9 1055.1,613.3 1057.6,622.9 1060.0,632.5 1062.5,642.6 1064.9,653.1 1067.4,663.6 1069.8,673.2 1072.3,683.7 1074.7,693.5 1077.2,704.0 1079.6,713.3 1082.1,723.6 1084.5,733.8 1087.0,742.9 1089.4,752.5 1091.9,761.7 1094.3,771.2 1096.8,780.4 1099.2,789.8 1101.7,798.2 1104.1,807.0 1106.6,815.2 1109.0,823.8 1111.5,832.1 1113.9,839.7 1116.4,847.0 1118.8,854.9 1121.3,862.3 1123.7,868.9 1126.2,875.2 1128.6,882.4 1131.1,888.8 1133.5,894.5 1136.0,900.2 1138.4,905.9 1140.9,911.7 1143.3,917.3 1145.8,922.2 1148.2,927.3 1150.7,931.3 1153.1,935.9 1155.6,940.6 1158.0,944.7 1160.5,948.4 1162.9,952.4 1165.4,955.7 1167.8,958.9 1170.3,962.5 1172.7,965.3 1175.2,968.8 1177.6,971.4 1180.1,974.3 1182.5,977.0 1185.0,979.1 1187.4,981.7 1189.9,983.5 1192.3,986.4 1194.8,988.1 1197.2,990.4 1199.7,991.4 1202.1,993.7 1204.6,995.4 1207.0,996.6 1209.5,997.9 1211.9,999.4 1214.4,1000.7 1216.8,1002.5 1219.3,1003.1 1221.7,1004.9 1224.2,1005.7 1226.6,1006.8 1229.1,1007.8 1231.5,1008.8 1234.0,1009.7 1236.4,1010.5 1238.9,1011.1 1241.3,1012.2 1243.8,1012.5 1246.2,1013.7 1248.7,1014.4 1251.1,1015.0 1253.6,1015.2 1256.0,1016.2 1258.5,1016.9 1260.9,1017.0 1263.4,1017.4 1265.8,1018.1 1268.3,1018.9 1270.7,1018.6 1273.2,1018.9 1275.6,1019.7 1278.1,1020.3 1280.5,1020.8 1283.0,1020.8 1285.4,1021.7 1287.9,1021.3 1290.3,1022.1 1292.8,1021.8 1295.2,1022.1 1297.7,1022.4 1300.1,1022.6 1302.6,1023.3 1305.0,1023.6 1307.5,1023.5 1309.9,1024.4 1312.4,1024.1 1314.8,1024.1 1317.3,1024.4 1319.7,1025.1 1322.2,1025.4 1324.6,1024.9 1327.1,1025.0 1329.5,1025.8 1332.0,1025.5 1334.4,1026.3 1336.9,1026.1 1339.3,1026.3 1341.8,1026.2 1344.2,1026.8 1346.7,1026.6 1349.1,1026.6 1351.6,1027.2 1354.0,1026.6 1356.5,1027.3 1358.9,1026.8 1361.4,1027.5 1363.8,1027.3 1366.3,1027.9 1368.7,1027.2 1371.2,1027.8 1373.6,1027.7 1376.1,1028.3 1378.5,1028.4 1381.0,1028.2 1383.4,1027.9 1385.9,1028.0 1388.3,1028.1 1390.8,1028.3 1393.2,1028.2 1395.7,1028.2 1398.1,1028.8 1400.6,1028.7 1403.0,1028.5 1405.5,1029.1 1407.9,1028.5 1410.4,1028.8 1412.8,1028.5 1415.3,1029.2 1417.7,1029.2 1420.2,1028.7 1422.6,1029.1 1425.1,1029.2 1427.5,1028.8 1430.0,1028.8 1432.4,1029.0 1434.9,1029.3 1437.3,1028.7 1439.8,1029.2 1442.2,1029.1 1444.7,1029.0 1447.1,1029.1 1449.6,1029.3 1452.0,1028.7 1454.5,1029.3 1456.9,1028.8 1459.4,1029.2 1461.8,1029.3 1464.3,1028.6 1466.7,1029.2 1469.2,1029.3 1471.6,1028.7 1474.1,1028.4 1476.5,1028.5 1479.0,1029.2 1481.4,1028.3 1483.9,1029.1 1486.3,1028.4 1488.8,1028.9 1491.2,1028.3 1493.7,1028.3 1496.1,1028.7 1498.6,1028.2 1501.0,1028.4 1503.5,1028.9 1505.9,1028.6 1508.4,1028.7 1510.8,1028.8 1513.3,1027.9 1515.7,1028.0 1518.2,1028.5 1520.6,1028.4 1523.1,1027.7 1525.5,1028.1 1528.0,1027.8 1530.4,1027.9 1532.9,1027.6 1535.3,1027.5 1537.8,1028.3 1540.2,1027.6 1542.7,1028.1 1545.1,1027.4 1547.6,1027.6 1550.0,1027.3 1552.5,1027.5 1554.9,1027.2 1557.4,1027.6 1559.8,1027.1 1562.3,1027.5 1564.7,1027.3 1567.2,1026.8 1569.6,1027.0 1572.1,1027.1 1574.5,1027.4 1577.0,1026.8 1579.4,1026.6 1581.9,1027.2 1584.3,1027.1 1586.8,1026.9 1589.2,1026.4 1591.7,1026.3 1594.1,1026.3 1596.6,1026.1 1599.0,1026.0 1601.5,1026.3 1603.9,1026.2 1606.4,1026.2 1608.8,1026.0 1611.3,1025.6 1613.7,1026.1 1616.2,1026.0 1618.6,1025.9 1621.1,1025.8 1623.5,1025.8 1626.0,1026.0 1628.4,1025.9 1630.9,1025.7 1633.3,1025.3 1635.8,1025.1 1638.2,1025.2 1640.7,1025.6 1643.1,1025.0 1645.6,1024.9 1648.0,1024.8 1650.5,1024.5 1652.9,1025.2 1655.4,1024.2 1657.8,1024.7 1660.3,1024.9 1662.7,1024.2 1665.2,1024.5"/>
<polyline fill="none" stroke="#8000ff" stroke-width="4.5" stroke-linejoin="round" points="442.6,985.2 445.1,985.4 447.5,985.6 449.9,985.8 452.4,986.7 454.8,986.9 457.3,987.2 459.7,986.7 462.2,987.6 464.6,987.5 467.1,988.0 469.5,988.2 472.0,988.2 474.4,989.1 476.9,988.5 479.3,989.4 481.8,989.7 484.2,989.7 486.7,990.0 489.1,990.6 491.6,990.2 494.0,990.8 496.5,991.2 498.9,991.1 501.4,991.6 503.8,991.6 506.3,992.0 508.7,992.3 511.2,992.6 513.6,992.5 516.1,993.0 518.5,993.2 521.0,993.2 523.4,993.8 525.9,993.7 528.4,994.5 530.8,994.4 533.3,994.8 535.7,994.9 538.2,995.1 540.6,995.1 543.1,995.3 545.5,996.2 548.0,996.1 550.4,996.3 552.9,996.5 555.3,997.0 557.8,996.8 560.2,996.9 562.7,997.7 565.1,997.6 567.6,998.0 570.0,998.4 572.5,998.7 574.9,998.9 577.4,998.4 579.8,998.9 582.3,999.5 584.7,999.7 587.2,999.3 589.6,999.5 592.1,999.8 594.5,999.9 597.0,1000.3 599.4,1000.9 601.9,1000.8 604.3,1001.0 606.8,1000.8 609.2,1001.3 611.7,1002.0 614.1,1001.9 616.6,1001.9 619.0,1002.1 621.5,1002.5 623.9,1002.6 626.4,1002.3 628.8,1002.9 631.3,1002.7 633.7,1003.0 636.2,1002.9 638.6,1003.2 641.1,1003.2 643.5,1003.4 646.0,1003.2 648.4,1003.5 650.9,1003.9 653.3,1003.5 655.8,1003.7 658.2,1004.3 660.7,1003.9 663.1,1004.0 665.6,1004.0 668.0,1004.6 670.5,1003.9 672.9,1004.4 675.4,1004.6 677.8,1004.0 680.3,1004.2 682.7,1004.5 685.2,1004.3 687.6,1004.1 690.1,1003.7 692.5,1004.0 695.0,1003.8 697.4,1004.0 699.9,1003.5 702.3,1003.4 704.8,1003.5 707.2,1003.4 709.7,1002.8 712.1,1002.6 714.6,1002.5 717.0,1002.5 719.5,1001.6 721.9,1001.9 724.4,1001.3 726.8,1000.7 729.3,1000.5 731.7,999.8 734.2,999.0 736.6,999.1 739.1,998.3 741.5,997.8 744.0,997.2 746.4,996.9 748.9,996.0 751.3,994.6 753.8,994.3 756.2,993.4 758.7,992.5 761.1,991.9 763.6,990.5 766.0,989.4 768.5,988.7 770.9,987.1 773.4,985.9 775.8,984.6 778.3,983.4 780.7,981.8 783.2,980.3 785.6,978.4 788.1,976.3 790.5,975.0 793.0,973.0 795.4,971.1 797.9,969.0 800.3,966.1 802.8,963.8 805.2,961.2 807.7,959.2 810.1,955.8 812.6,952.9 815.0,950.4 817.5,947.1 819.9,943.2 822.4,940.3 824.8,936.6 827.3,932.5 829.7,928.0 832.2,924.3 834.6,919.6 837.1,915.1 839.5,910.5 842.0,905.3 844.4,900.0 846.9,893.7 849.3,888.1 851.8,882.2 854.2,875.4 856.7,869.8 859.1,862.3 861.6,855.2 864.0,847.9 866.5,840.2 868.9,832.8 871.4,824.3 873.8,815.8 876.3,807.0 878.7,797.6 881.2,788.6 883.6,779.5 886.1,769.6 888.5,759.6 891.0,748.7 893.4,738.0 895.9,727.0 898.3,716.4 900.8,704.9 903.2,693.5 905.7,681.9 908.1,670.1 910.6,658.0 913.0,646.2 915.5,633.5 917.9,621.8 920.4,609.1 922.8,596.3 925.3,584.1 927.7,571.9 930.2,559.5 932.6,547.4 935.1,535.1 937.5,523.1 940.0,511.8 942.4,499.8 944.9,488.9 947.3,478.0 949.8,467.2 952.2,456.7 954.7,447.3 957.1,437.4 959.6,428.8 962.0,419.6 964.5,412.0 966.9,404.8 969.4,397.5 971.8,392.1 974.3,385.9 976.7,381.5 979.2,377.0 981.6,374.2 984.1,371.2 986.5,369.4 989.0,367.9 991.4,367.5 993.9,367.6 996.3,367.9 998.8,369.0 1001.2,371.3 1003.7,373.1 1006.1,376.8 1008.6,379.7 1011.0,383.7 1013.5,388.4 1015.9,394.2 1018.4,400.1 1020.8,405.8 1023.3,412.8 1025.7,419.6 1028.2,427.9 1030.6,435.8 1033.1,443.8 1035.5,452.7 1038.0,462.5 1040.4,471.5 1042.9,482.2 1045.3,491.9 1047.8,502.3 1050.2,513.4 1052.7,524.1 1055.1,535.4 1057.6,546.4 1060.0,558.5 1062.5,569.5 1064.9,581.6 1067.4,592.7 1069.8,605.0 1072.3,617.0 1074.7,628.2 1077.2,639.6 1079.6,651.6 1082.1,663.5 1084.5,674.7 1087.0,686.4 1089.4,697.3 1091.9,708.8 1094.3,720.1 1096.8,730.7 1099.2,741.6 1101.7,751.6 1104.1,762.6 1106.6,772.1 1109.0,782.7 1111.5,792.4 1113.9,801.8 1116.4,810.6 1118.8,819.3 1121.3,828.1 1123.7,836.9 1126.2,844.9 1128.6,853.2 1131.1,860.1 1133.5,867.9 1136.0,875.5 1138.4,882.2 1140.9,888.8 1143.3,894.8 1145.8,901.1 1148.2,907.2 1150.7,913.4 1153.1,918.9 1155.6,923.6 1158.0,929.3 1160.5,933.3 1162.9,938.5 1165.4,943.2 1167.8,946.9 1170.3,951.5 1172.7,955.1 1175.2,958.2 1177.6,961.9 1180.1,965.4 1182.5,968.4 1185.0,971.8 1187.4,974.2 1189.9,977.5 1192.3,979.6 1194.8,981.9 1197.2,984.7 1199.7,986.5 1202.1,989.0 1204.6,991.2 1207.0,992.9 1209.5,994.6 1211.9,996.0 1214.4,998.0 1216.8,999.2 1219.3,1001.1 1221.7,1002.0 1224.2,1003.8 1226.6,1004.8 1229.1,1006.0 1231.5,1007.4 1234.0,1008.0 1236.4,1009.0 1238.9,1010.7 1241.3,1011.0 1243.8,1012.4 1246.2,1013.2 1248.7,1013.7 1251.1,1014.1 1253.6,1014.8 1256.0,1016.1 1258.5,1016.1 1260.9,1017.1 1263.4,1017.7 1265.8,1017.9 1268.3,1018.7 1270.7,1019.0 1273.2,1019.8 1275.6,1020.2 1278.1,1020.5 1280.5,1020.8 1283.0,1021.4 1285.4,1021.6 1287.9,1021.9 1290.3,1022.4 1292.8,1023.3 1295.2,1023.3 1297.7,1024.0 1300.1,1023.5 1302.6,1024.6 1305.0,1024.5 1307.5,1025.0 1309.9,1025.1 1312.4,1025.4 1314.8,1025.3 1317.3,1026.0 1319.7,1025.6 1322.2,1026.0 1324.6,1026.0 1327.1,1026.5 1329.5,1026.8 1332.0,1026.8 1334.4,1027.5 1336.9,1026.9 1339.3,1027.5 1341.8,1027.4 1344.2,1027.9 1346.7,1028.2 1349.1,1028.3 1351.6,1027.8 1354.0,1028.1 1356.5,1028.5 1358.9,1029.0 1361.4,1028.3 1363.8,1028.9 1366.3,1029.1 1368.7,1029.3 1371.2,1029.0 1373.6,1029.5 1376.1,1029.3 1378.5,1029.8 1381.0,1029.1 1383.4,1030.0 1385.9,1029.6 1388.3,1029.7 1390.8,1029.5 1393.2,1029.7 1395.7,1030.2 1398.1,1030.2 1400.6,1029.8 1403.0,1030.0 1405.5,1029.9 1407.9,1030.0 1410.4,1030.1 1412.8,1030.2 1415.3,1030.8 1417.7,1030.9 1420.2,1030.8 1422.6,1030.5 1425.1,1030.5 1427.5,1030.8 1430.0,1031.0 1432.4,1030.9 1434.9,1030.8 1437.3,1030.4 1439.8,1030.8 1442.2,1031.0 1444.7,1031.0 1447.1,1030.3 1449.6,1030.9 1452.0,1030.6 1454.5,1030.4 1456.9,1031.2 1459.4,1030.9 1461.8,1031.0 1464.3,1030.4 1466.7,1031.0 1469.2,1031.1 1471.6,1031.1 1474.1,1030.9 1476.5,1031.0 1479.0,1031.0 1481.4,1030.8 1483.9,1030.6 1486.3,1030.9 1488.8,1030.9 1491.2,1030.9 1493.7,1030.4 1496.1,1031.0 1498.6,1030.6 1501.0,1030.9 1503.5,1030.2 1505.9,1030.9 1508.4,1030.7 1510.8,1030.2 1513.3,1030.7 1515.7,1030.2 1518.2,1030.1 1520.6,1030.3 1523.1,1030.1 1525.5,1030.3 1528.0,1030.6 1530.4,1030.4 1532.9,1030.4 1535.3,1030.1 1537.8,1030.4 1540.2,1030.3 1542.7,1030.2 1545.1,1030.4 1547.6,1030.3 1550.0,1029.9 1552.5,1029.5 1554.9,1030.0 1557.4,1030.1 1559.8,1029.6 1562.3,1029.8 1564.7,1030.0 1567.2,1029.9 1569.6,1029.2 1572.1,1029.6 1574.5,1029.1 1577.0,1029.1 1579.4,1029.7 1581.9,1029.3 1584.3,1029.5 1586.8,1029.3 1589.2,1029.1 1591.7,1029.0 1594.1,1029.0 1596.6,1029.4 1599.0,1029.2 1601.5,1028.9 1603.9,1028.6 1606.4,1028.7 1608.8,1029.1 1611.3,1028.8 1613.7,1028.9 1616.2,1029.0 1618.6,1028.3 1621.1,1028.8 1623.5,1028.2 1626.0,1028.8 1628.4,1028.2 1630.9,1028.2 1633.3,1028.8 1635.8,1028.2 1638.2,1028.0 1640.7,1028.6 1643.1,1028.3 1645.6,1028.5 1648.0,1028.0 1650.5,1028.0 1652.9,1028.3 1655.4,1027.9 1657.8,1028.3 1660.3,1027.5 1662.7,1028.0 1665.2,1027.3"/>
<polyline fill="none" stroke="#800080" stroke-width="4.5" stroke-linejoin="round" points="442.6,985.1 445.1,984.9 447.5,985.3 449.9,986.3 452.4,986.1 454.8,986.7 457.3,986.4 459.7,986.8 462.2,986.8 464.6,987.5 467.1,988.0 469.5,987.9 472.0,988.1 474.4,988.8 476.9,989.0 479.3,989.1 481.8,988.8 484.2,989.6 486.7,989.6 489.1,990.4 491.6,990.1 494.0,990.6 496.5,990.8 498.9,990.8 501.4,991.2 503.8,991.6 506.3,992.1 508.7,991.9 511.2,992.1 513.6,992.9 516.1,992.3 518.5,993.2 521.0,993.3 523.4,993.5 525.9,993.6 528.4,994.1 530.8,994.5 533.3,994.6 535.7,994.9 538.2,994.5 540.6,995.0 543.1,995.0 545.5,996.0 548.0,996.2 550.4,995.7 552.9,996.4 555.3,996.6 557.8,996.3 560.2,996.9 562.7,997.4 565.1,997.5 567.6,997.4 570.0,998.1 572.5,997.9 574.9,998.3 577.4,998.5 579.8,999.2 582.3,999.1 584.7,999.4 587.2,999.5 589.6,999.5 592.1,1000.2 594.5,1000.2 597.0,1000.3 599.4,1000.2 601.9,1000.3 604.3,1000.8 606.8,1001.2 609.2,1001.4 611.7,1001.2 614.1,1001.1 616.6,1001.7 619.0,1002.1 621.5,1001.7 623.9,1002.3 626.4,1002.0 628.8,1002.3 631.3,1002.2 633.7,1002.5 636.2,1002.7 638.6,1003.4 641.1,1003.5 643.5,1002.9 646.0,1003.2 648.4,1003.8 650.9,1003.2 653.3,1003.4 655.8,1003.6 658.2,1003.4 660.7,1003.6 663.1,1003.8 665.6,1003.8 668.0,1004.4 670.5,1003.8 672.9,1003.7 675.4,1004.4 677.8,1003.9 680.3,1004.3 682.7,1004.1 685.2,1004.1 687.6,1003.7 690.1,1003.4 692.5,1003.9 695.0,1003.5 697.4,1003.5 699.9,1003.4 702.3,1003.4 704.8,1002.7 707.2,1002.6 709.7,1002.9 712.1,1002.3 714.6,1001.8 717.0,1001.9 719.5,1001.2 721.9,1001.3 724.4,1000.3 726.8,1000.6 729.3,1000.0 731.7,999.3 734.2,999.4 736.6,998.2 739.1,997.6 741.5,996.9 744.0,996.7 746.4,996.2 748.9,995.4 751.3,994.4 753.8,993.9 756.2,992.4 758.7,991.7 761.1,991.0 763.6,990.2 766.0,988.8 768.5,987.7 770.9,986.6 773.4,984.9 775.8,984.0 778.3,982.4 780.7,980.5 783.2,978.9 785.6,977.5 788.1,975.3 790.5,973.2 793.0,971.8 795.4,969.3 797.9,967.1 800.3,964.8 802.8,962.5 805.2,959.2 807.7,956.6 810.1,953.4 812.6,950.6 815.0,947.4 817.5,944.3 819.9,940.6 822.4,936.7 824.8,932.6 827.3,928.6 829.7,924.0 832.2,919.9 834.6,915.1 837.1,910.1 839.5,904.2 842.0,899.2 844.4,893.5 846.9,887.3 849.3,881.3 851.8,874.8 854.2,867.8 856.7,860.8 859.1,853.3 861.6,845.8 864.0,837.1 866.5,829.4 868.9,820.8 871.4,811.8 873.8,802.3 876.3,792.6 878.7,783.2 881.2,773.3 883.6,762.4 886.1,751.6 888.5,740.5 891.0,729.1 893.4,718.0 895.9,706.4 898.3,694.1 900.8,681.3 903.2,669.0 905.7,655.5 908.1,643.2 910.6,629.4 913.0,615.7 915.5,602.7 917.9,588.6 920.4,575.0 922.8,560.9 925.3,547.4 927.7,533.6 930.2,520.0 932.6,505.5 935.1,492.5 937.5,478.2 940.0,464.9 942.4,452.0 944.9,438.8 947.3,426.1 949.8,413.9 952.2,401.5 954.7,390.3 957.1,378.6 959.6,368.4 962.0,358.0 964.5,348.1 966.9,338.4 969.4,330.5 971.8,321.9 974.3,315.1 976.7,308.5 979.2,302.3 981.6,297.7 984.1,293.4 986.5,289.7 989.0,286.8 991.4,284.9 993.9,283.8 996.3,283.1 998.8,283.9 1001.2,284.9 1003.7,286.3 1006.1,288.7 1008.6,291.0 1011.0,295.2 1013.5,298.6 1015.9,303.9 1018.4,309.0 1020.8,315.5 1023.3,322.4 1025.7,329.7 1028.2,337.3 1030.6,345.6 1033.1,354.4 1035.5,363.9 1038.0,373.7 1040.4,383.9 1042.9,395.1 1045.3,406.0 1047.8,417.3 1050.2,428.8 1052.7,441.3 1055.1,453.2 1057.6,465.8 1060.0,478.8 1062.5,491.9 1064.9,505.2 1067.4,518.2 1069.8,531.7 1072.3,545.0 1074.7,558.3 1077.2,571.7 1079.6,584.5 1082.1,598.0 1084.5,611.1 1087.0,625.1 1089.4,638.1 1091.9,651.0 1094.3,663.5 1096.8,676.3 1099.2,688.6 1101.7,701.4 1104.1,713.8 1106.6,725.1 1109.0,736.5 1111.5,748.0 1113.9,759.4 1116.4,770.7 1118.8,781.3 1121.3,791.3 1123.7,801.1 1126.2,810.9 1128.6,820.4 1131.1,830.2 1133.5,838.8 1136.0,847.9 1138.4,856.2 1140.9,864.1 1143.3,871.6 1145.8,879.4 1148.2,886.0 1150.7,892.9 1153.1,899.9 1155.6,906.3 1158.0,912.1 1160.5,918.0 1162.9,923.4 1165.4,929.6 1167.8,934.5 1170.3,939.6 1172.7,944.4 1175.2,948.3 1177.6,952.8 1180.1,956.6 1182.5,960.8 1185.0,964.5 1187.4,967.4 1189.9,970.6 1192.3,973.9 1194.8,977.2 1197.2,979.9 1199.7,982.2 1202.1,985.5 1204.6,987.9 1207.0,989.9 1209.5,991.7 1211.9,994.5 1214.4,996.1 1216.8,997.5 1219.3,999.5 1221.7,1001.4 1224.2,1003.3 1226.6,1004.4 1229.1,1005.9 1231.5,1006.9 1234.0,1008.2 1236.4,1009.9 1238.9,1010.6 1241.3,1011.4 1243.8,1012.9 1246.2,1013.4 1248.7,1014.4 1251.1,1015.5 1253.6,1016.5 1256.0,1017.3 1258.5,1018.1 1260.9,1018.6 1263.4,1018.9 1265.8,1020.1 1268.3,1020.1 1270.7,1021.1 1273.2,1021.6 1275.6,1022.4 1278.1,1022.9 1280.5,1023.0 1283.0,1023.8 1285.4,1024.3 1287.9,1024.5 1290.3,1024.6 1292.8,1025.7 1295.2,1025.8 1297.7,1025.6 1300.1,1026.1 1302.6,1027.1 1305.0,1026.8 1307.5,1027.2 1309.9,1027.9 1312.4,1028.2 1314.8,1028.3 1317.3,1028.6 1319.7,1028.2 1322.2,1028.5 1324.6,1029.5 1327.1,1029.6 1329.5,1029.1 1332.0,1029.3 1334.4,1029.7 1336.9,1030.5 1339.3,1030.0 1341.8,1030.6 1344.2,1031.0 1346.7,1030.9 1349.1,1031.3 1351.6,1030.9 1354.0,1030.9 1356.5,1030.9 1358.9,1031.7 1361.4,1031.3 1363.8,1032.2 1366.3,1032.1 1368.7,1031.7 1371.2,1032.4 1373.6,1031.9 1376.1,1032.3 1378.5,1032.1 1381.0,1032.8 1383.4,1033.0 1385.9,1033.1 1388.3,1032.3 1390.8,1033.2 1393.2,1033.0 1395.7,1033.3 1398.1,1033.1 1400.6,1033.3 1403.0,1033.3 1405.5,1033.6 1407.9,1033.0 1410.4,1033.0 1412.8,1033.5 1415.3,1033.4 1417.7,1033.5 1420.2,1033.2 1422.6,1034.0 1425.1,1033.4 1427.5,1034.1 1430.0,1034.2 1432.4,1033.9 1434.9,1033.6 1437.3,1034.2 1439.8,1033.8 1442.2,1034.0 1444.7,1033.8 1447.1,1034.6 1449.6,1034.3 1452.0,1034.1 1454.5,1033.9 1456.9,1034.5 1459.4,1034.7 1461.8,1034.7 1464.3,1034.1 1466.7,1034.3 1469.2,1034.3 1471.6,1034.7 1474.1,1034.2 1476.5,1034.7 1479.0,1035.0 1481.4,1034.8 1483.9,1034.2 1486.3,1034.3 1488.8,1034.3 1491.2,1034.9 1493.7,1034.8 1496.1,1034.8 1498.6,1034.7 1501.0,1034.7 1503.5,1034.9 1505.9,1035.0 1508.4,1035.2 1510.8,1035.1 1513.3,1035.1 1515.7,1035.3 1518.2,1035.2 1520.6,1035.1 1523.1,1034.5 1525.5,1035.1 1528.0,1035.3 1530.4,1034.9 1532.9,1035.3 1535.3,1034.7 1537.8,1035.4 1540.2,1035.0 1542.7,1035.2 1545.1,1034.8 1547.6,1034.9 1550.0,1034.9 1552.5,1034.9 1554.9,1034.7 1557.4,1035.1 1559.8,1035.5 1562.3,1035.3 1564.7,1035.5 1567.2,1035.4 1569.6,1035.5 1572.1,1035.6 1574.5,1035.4 1577.0,1035.0 1579.4,1035.0 1581.9,1035.1 1584.3,1034.8 1586.8,1035.0 1589.2,1035.6 1591.7,1035.6 1594.1,1035.1 1596.6,1035.5 1599.0,1035.5 1601.5,1035.6 1603.9,1035.5 1606.4,1035.3 1608.8,1034.9 1611.3,1035.6 1613.7,1035.1 1616.2,1035.4 1618.6,1035.2 1621.1,1035.4 1623.5,1035.7 1626.0,1035.0 1628.4,1035.4 1630.9,1035.5 1633.3,1035.4 1635.8,1035.8 1638.2,1035.3 1640.7,1035.7 1643.1,1035.5 1645.6,1035.8 1648.0,1035.0 1650.5,1035.1 1652.9,1035.2 1655.4,1035.8 1657.8,1035.0 1660.3,1035.2 1662.7,1035.6 1665.2,1035.9"/>
<polyline fill="none" stroke="#800000" stroke-width="4.5" stroke-linejoin="round" points="442.6,987.5 445.1,988.0 447.5,988.5 449.9,988.8 452.4,989.1 454.8,989.3 457.3,989.2 459.7,989.4 462.2,989.5 464.6,990.3 467.1,990.1 469.5,990.4 472.0,991.3 474.4,991.3 476.9,991.5 479.3,991.8 481.8,992.0 484.2,992.3 486.7,992.2 489.1,992.3 491.6,992.5 494.0,992.7 496.5,993.3 498.9,993.4 501.4,993.6 503.8,994.2 506.3,994.8 508.7,994.8 511.2,994.7 513.6,995.4 516.1,995.1 518.5,995.3 521.0,995.7 523.4,996.1 525.9,996.6 528.4,996.6 530.8,997.1 533.3,996.7 535.7,997.7 538.2,997.4 540.6,998.1 543.1,997.6 545.5,998.6 548.0,998.3 550.4,999.1 552.9,999.3 555.3,999.4 557.8,999.3 560.2,999.2 562.7,999.6 565.1,1000.5 567.6,1000.1 570.0,1000.7 572.5,1000.9 574.9,1001.2 577.4,1001.0 579.8,1001.1 582.3,1001.3 584.7,1002.3 587.2,1002.0 589.6,1002.4 592.1,1002.6 594.5,1002.4 597.0,1002.5 599.4,1002.6 601.9,1003.6 604.3,1003.1 606.8,1004.1 609.2,1003.7 611.7,1004.2 614.1,1003.9 616.6,1004.6 619.0,1004.3 621.5,1004.6 623.9,1004.9 626.4,1004.7 628.8,1004.9 631.3,1005.6 633.7,1005.2 636.2,1005.5 638.6,1005.9 641.1,1005.6 643.5,1005.7 646.0,1005.8 648.4,1006.0 650.9,1006.1 653.3,1006.5 655.8,1006.4 658.2,1006.8 660.7,1006.1 663.1,1006.7 665.6,1006.9 668.0,1006.4 670.5,1006.3 672.9,1006.7 675.4,1006.4 677.8,1006.7 680.3,1006.9 682.7,1006.3 685.2,1006.3 687.6,1006.5 690.1,1006.2 692.5,1006.2 695.0,1006.2 697.4,1005.8 699.9,1005.6 702.3,1005.7 704.8,1005.7 707.2,1005.9 709.7,1005.3 712.1,1004.7 714.6,1004.5 717.0,1004.7 719.5,1004.2 721.9,1004.2 724.4,1003.9 726.8,1003.4 729.3,1002.3 731.7,1002.6 734.2,1001.7 736.6,1001.0 739.1,1000.3 741.5,1000.4 744.0,999.1 746.4,998.3 748.9,997.8 751.3,997.6 753.8,996.3 756.2,995.7 758.7,994.2 761.1,993.5 763.6,992.3 766.0,991.1 768.5,990.3 770.9,988.8 773.4,987.3 775.8,986.6 778.3,984.7 780.7,982.8 783.2,981.0 785.6,979.8 788.1,977.8 790.5,975.4 793.0,973.7 795.4,971.7 797.9,969.2 800.3,966.5 802.8,964.1 805.2,961.5 807.7,958.6 810.1,955.1 812.6,952.5 815.0,949.3 817.5,945.6 819.9,941.9 822.4,937.6 824.8,933.9 827.3,928.9 829.7,924.4 832.2,920.0 834.6,915.2 837.1,909.3 839.5,903.9 842.0,898.0 844.4,892.3 846.9,885.7 849.3,879.2 851.8,872.9 854.2,865.6 856.7,858.4 859.1,850.2 861.6,842.4 864.0,833.4 866.5,825.5 868.9,815.8 871.4,806.7 873.8,797.0 876.3,787.4 878.7,776.6 881.2,766.4 883.6,755.0 886.1,743.3 888.5,732.2 891.0,719.6 893.4,708.1 895.9,695.0 898.3,681.9 900.8,669.4 903.2,655.4 905.7,641.8 908.1,627.8 910.6,614.0 913.0,599.1 915.5,584.9 917.9,570.1 920.4,555.9 922.8,540.3 925.3,525.9 927.7,510.6 930.2,495.8 932.6,481.0 935.1,466.2 937.5,450.9 940.0,436.3 942.4,421.8 944.9,408.2 947.3,393.5 949.8,379.7 952.2,366.6 954.7,353.7 957.1,341.3 959.6,328.4 962.0,316.8 964.5,305.6 966.9,295.3 969.4,285.2 971.8,275.8 974.3,267.5 976.7,259.3 979.2,252.2 981.6,245.7 984.1,239.4 986.5,235.0 989.0,230.4 991.4,226.8 993.9,225.1 996.3,222.8 998.8,222.0 1001.2,222.3 1003.7,222.9 1006.1,224.9 1008.6,227.0 1011.0,229.5 1013.5,233.2 1015.9,237.8 1018.4,242.9 1020.8,248.5 1023.3,254.8 1025.7,261.5 1028.2,269.4 1030.6,278.1 1033.1,287.0 1035.5,296.7 1038.0,306.8 1040.4,317.4 1042.9,327.8 1045.3,339.2 1047.8,351.9 1050.2,363.9 1052.7,376.3 1055.1,389.8 1057.6,402.7 1060.0,416.3 1062.5,430.3 1064.9,444.5 1067.4,458.9 1069.8,472.7 1072.3,487.8 1074.7,502.3 1077.2,516.8 1079.6,531.6 1082.1,546.3 1084.5,560.2 1087.0,575.2 1089.4,589.9 1091.9,604.3 1094.3,618.5 1096.8,632.1 1099.2,646.7 1101.7,660.3 1104.1,673.3 1106.6,686.8 1109.0,700.3 1111.5,712.5 1113.9,725.2 1116.4,738.0 1118.8,749.9 1121.3,761.0 1123.7,772.8 1126.2,783.6 1128.6,794.6 1131.1,805.2 1133.5,814.7 1136.0,824.7 1138.4,834.2 1140.9,843.4 1143.3,852.1 1145.8,860.7 1148.2,869.2 1150.7,877.1 1153.1,884.4 1155.6,892.2 1158.0,899.6 1160.5,906.0 1162.9,912.2 1165.4,918.7 1167.8,924.4 1170.3,929.8 1172.7,935.5 1175.2,940.2 1177.6,945.7 1180.1,949.9 1182.5,954.5 1185.0,959.3 1187.4,963.1 1189.9,967.0 1192.3,970.5 1194.8,973.9 1197.2,977.2 1199.7,980.6 1202.1,982.8 1204.6,986.1 1207.0,988.3 1209.5,990.8 1211.9,993.7 1214.4,995.7 1216.8,998.0 1219.3,1000.1 1221.7,1001.7 1224.2,1003.1 1226.6,1004.7 1229.1,1006.7 1231.5,1008.4 1234.0,1009.4 1236.4,1010.6 1238.9,1011.8 1241.3,1013.2 1243.8,1014.8 1246.2,1015.3 1248.7,1016.5 1251.1,1017.5 1253.6,1018.9 1256.0,1020.0 1258.5,1019.9 1260.9,1020.8 1263.4,1022.3 1265.8,1023.1 1268.3,1023.0 1270.7,1023.8 1273.2,1024.6 1275.6,1025.0 1278.1,1025.6 1280.5,1026.2 1283.0,1026.5 1285.4,1026.8 1287.9,1027.3 1290.3,1027.8 1292.8,1028.2 1295.2,1029.0 1297.7,1029.5 1300.1,1029.5 1302.6,1030.3 1305.0,1030.6 1307.5,1030.5 1309.9,1031.0 1312.4,1031.0 1314.8,1031.9 1317.3,1031.9 1319.7,1031.7 1322.2,1032.0 1324.6,1032.8 1327.1,1032.7 1329.5,1033.2 1332.0,1033.0 1334.4,1033.7 1336.9,1033.9 1339.3,1033.5 1341.8,1034.1 1344.2,1033.9 1346.7,1034.6 1349.1,1034.8 1351.6,1035.0 1354.0,1034.6 1356.5,1034.6 1358.9,1035.3 1361.4,1035.3 1363.8,1035.1 1366.3,1035.3 1368.7,1035.7 1371.2,1035.4 1373.6,1036.0 1376.1,1035.8 1378.5,1035.9 1381.0,1036.1 1383.4,1036.3 1385.9,1036.6 1388.3,1036.1 1390.8,1036.8 1393.2,1036.4 1395.7,1036.6 1398.1,1037.0 1400.6,1037.1 1403.0,1037.1 1405.5,1037.4 1407.9,1036.9 1410.4,1037.0 1412.8,1037.4 1415.3,1037.1 1417.7,1037.1 1420.2,1037.2 1422.6,1037.7 1425.1,1037.8 1427.5,1037.8 1430.0,1038.1 1432.4,1038.0 1434.9,1037.6 1437.3,1037.6 1439.8,1038.1 1442.2,1037.5 1444.7,1038.0 1447.1,1037.6 1449.6,1037.6 1452.0,1038.1 1454.5,1037.8 1456.9,1038.5 1459.4,1038.5 1461.8,1038.2 1464.3,1038.0 1466.7,1037.9 1469.2,1038.3 1471.6,1038.4 1474.1,1038.2 1476.5,1038.6 1479.0,1038.5 1481.4,1038.7 1483.9,1038.1 1486.3,1038.1 1488.8,1038.4 1491.2,1038.5 1493.7,1038.4 1496.1,1038.8 1498.6,1038.4 1501.0,1038.5 1503.5,1038.7 1505.9,1038.9 1508.4,1039.0 1510.8,1038.6 1513.3,1038.7 1515.7,1039.2 1518.2,1039.2 1520.6,1038.9 1523.1,1038.5 1525.5,1038.8 1528.0,1039.0 1530.4,1038.7 1532.9,1038.5 1535.3,1039.4 1537.8,1039.3 1540.2,1038.6 1542.7,1038.9 1545.1,1039.1 1547.6,1038.8 1550.0,1038.6 1552.5,1039.3 1554.9,1039.3 1557.4,1039.0 1559.8,1038.7 1562.3,1039.0 1564.7,1038.7 1567.2,1039.5 1569.6,1038.7 1572.1,1039.0 1574.5,1039.4 1577.0,1038.8 1579.4,1038.8 1581.9,1038.8 1584.3,1038.9 1586.8,1039.2 1589.2,1039.5 1591.7,1038.9 1594.1,1039.0 1596.6,1039.5 1599.0,1039.2 1601.5,1039.1 1603.9,1039.0 1606.4,1039.1 1608.8,1039.7 1611.3,1039.0 1613.7,1039.1 1616.2,1039.6 1618.6,1039.7 1621.1,1039.7 1623.5,1039.4 1626.0,1039.8 1628.4,1039.5 1630.9,1039.2 1633.3,1039.4 1635.8,1039.6 1638.2,1039.7 1640.7,1039.1 1643.1,1039.2 1645.6,1039.9 1648.0,1039.1 1650.5,1039.8 1652.9,1039.4 1655.4,1039.3 1657.8,1039.3 1660.3,1039.5 1662.7,1040.0 1665.2,1039.2"/>
<polyline fill="none" stroke="#808000" stroke-width="4.5" stroke-linejoin="round" points="442.6,995.3 445.1,995.0 447.5,995.2 449.9,995.9 452.4,995.8 454.8,995.9 457.3,996.4 459.7,997.0 462.2,997.3 464.6,997.3 467.1,997.1 469.5,998.0 472.0,998.1 474.4,998.6 476.9,998.9 479.3,998.6 481.8,999.3 484.2,999.6 486.7,999.3 489.1,999.7 491.6,999.9 494.0,1000.1 496.5,1000.4 498.9,1000.4 501.4,1000.8 503.8,1001.6 506.3,1001.4 508.7,1001.9 511.2,1002.4 513.6,1002.5 516.1,1002.3 518.5,1003.1 521.0,1003.3 523.4,1003.7 525.9,1003.7 528.4,1004.0 530.8,1004.3 533.3,1004.0 535.7,1004.6 538.2,1004.6 540.6,1005.2 543.1,1004.8 545.5,1005.4 548.0,1005.5 550.4,1006.2 552.9,1006.0 555.3,1006.6 557.8,1006.9 560.2,1007.1 562.7,1006.7 565.1,1007.6 567.6,1007.7 570.0,1007.8 572.5,1008.0 574.9,1007.7 577.4,1008.7 579.8,1008.6 582.3,1008.7 584.7,1008.8 587.2,1009.4 589.6,1009.6 592.1,1009.9 594.5,1009.5 597.0,1009.8 599.4,1010.0 601.9,1010.0 604.3,1010.4 606.8,1010.3 609.2,1011.2 611.7,1010.9 614.1,1010.9 616.6,1011.1 619.0,1011.8 621.5,1011.5 623.9,1011.9 626.4,1012.0 628.8,1012.5 631.3,1012.8 633.7,1012.4 636.2,1012.8 638.6,1013.2 641.1,1012.9 643.5,1013.4 646.0,1013.4 648.4,1013.1 650.9,1013.7 653.3,1013.5 655.8,1013.2 658.2,1013.7 660.7,1014.0 663.1,1013.7 665.6,1013.8 668.0,1013.7 670.5,1014.2 672.9,1014.0 675.4,1013.6 677.8,1013.7 680.3,1013.7 682.7,1014.2 685.2,1014.0 687.6,1013.4 690.1,1014.0 692.5,1013.1 695.0,1013.5 697.4,1013.3 699.9,1013.4 702.3,1013.0 704.8,1012.5 707.2,1012.7 709.7,1012.8 712.1,1012.5 714.6,1011.9 717.0,1011.5 719.5,1011.6 721.9,1011.3 724.4,1010.5 726.8,1010.7 729.3,1010.3 731.7,1009.4 734.2,1008.8 736.6,1008.6 739.1,1008.3 741.5,1007.0 744.0,1006.4 746.4,1005.8 748.9,1005.4 751.3,1004.1 753.8,1003.6 756.2,1002.7 758.7,1001.9 761.1,1000.4 763.6,1000.1 766.0,999.0 768.5,997.4 770.9,996.3 773.4,994.4 775.8,993.6 778.3,991.7 780.7,990.3 783.2,988.7 785.6,986.4 788.1,985.0 790.5,982.3 793.0,980.0 795.4,978.1 797.9,976.1 800.3,973.5 802.8,970.9 805.2,967.6 807.7,965.0 810.1,961.5 812.6,957.8 815.0,954.7 817.5,951.2 819.9,946.9 822.4,943.0 824.8,938.4 827.3,933.8 829.7,929.2 832.2,924.3 834.6,919.0 837.1,913.2 839.5,907.3 842.0,901.6 844.4,895.6 846.9,889.0 849.3,881.6 851.8,874.4 854.2,867.2 856.7,859.0 859.1,851.2 861.6,843.0 864.0,833.5 866.5,824.7 868.9,815.3 871.4,805.4 873.8,795.1 876.3,784.6 878.7,773.2 881.2,762.4 883.6,750.8 886.1,738.1 888.5,726.5 891.0,713.3 893.4,700.0 895.9,686.6 898.3,673.6 900.8,659.5 903.2,644.7 905.7,630.5 908.1,615.8 910.6,601.0 913.0,585.1 915.5,570.0 917.9,553.9 920.4,538.0 922.8,522.0 925.3,506.1 927.7,490.2 930.2,473.7 932.6,457.3 935.1,441.2 937.5,425.0 940.0,409.1 942.4,393.3 944.9,377.8 947.3,362.0 949.8,347.1 952.2,332.1 954.7,318.0 957.1,303.4 959.6,290.0 962.0,276.3 964.5,263.2 966.9,251.3 969.4,239.2 971.8,228.2 974.3,217.7 976.7,208.6 979.2,199.9 981.6,191.2 984.1,183.7 986.5,177.2 989.0,171.4 991.4,166.8 993.9,162.5 996.3,159.2 998.8,157.6 1001.2,156.0 1003.7,155.1 1006.1,156.2 1008.6,157.2 1011.0,158.7 1013.5,161.7 1015.9,165.5 1018.4,169.3 1020.8,174.5 1023.3,180.2 1025.7,187.1 1028.2,194.6 1030.6,202.7 1033.1,211.7 1035.5,220.4 1038.0,230.7 1040.4,241.9 1042.9,253.1 1045.3,264.8 1047.8,277.2 1050.2,289.7 1052.7,303.6 1055.1,317.0 1057.6,330.9 1060.0,345.2 1062.5,359.9 1064.9,375.7 1067.4,390.9 1069.8,405.7 1072.3,421.7 1074.7,437.6 1077.2,453.6 1079.6,469.5 1082.1,486.0 1084.5,501.6 1087.0,517.8 1089.4,534.1 1091.9,549.8 1094.3,565.5 1096.8,581.0 1099.2,596.6 1101.7,612.2 1104.1,627.5 1106.6,641.9 1109.0,656.7 1111.5,671.2 1113.9,685.4 1116.4,699.7 1118.8,713.0 1121.3,726.1 1123.7,739.1 1126.2,752.2 1128.6,763.9 1131.1,776.3 1133.5,787.3 1136.0,798.8 1138.4,809.6 1140.9,820.8 1143.3,830.4 1145.8,840.4 1148.2,849.7 1150.7,859.1 1153.1,868.3 1155.6,876.8 1158.0,885.2 1160.5,893.0 1162.9,900.2 1165.4,907.7 1167.8,913.8 1170.3,921.1 1172.7,927.0 1175.2,932.8 1177.6,939.0 1180.1,944.5 1182.5,949.3 1185.0,954.0 1187.4,959.4 1189.9,963.7 1192.3,967.8 1194.8,972.2 1197.2,975.2 1199.7,978.8 1202.1,982.3 1204.6,985.5 1207.0,989.1 1209.5,992.0 1211.9,994.3 1214.4,996.9 1216.8,999.4 1219.3,1002.1 1221.7,1004.4 1224.2,1006.7 1226.6,1008.1 1229.1,1010.5 1231.5,1011.8 1234.0,1013.4 1236.4,1014.8 1238.9,1016.3 1241.3,1018.3 1243.8,1019.7 1246.2,1020.7 1248.7,1021.3 1251.1,1022.5 1253.6,1023.5 1256.0,1024.7 1258.5,1025.9 1260.9,1026.2 1263.4,1027.5 1265.8,1028.4 1268.3,1028.6 1270.7,1029.7 1273.2,1030.7 1275.6,1031.1 1278.1,1031.6 1280.5,1032.6 1283.0,1032.9 1285.4,1033.2 1287.9,1033.7 1290.3,1034.7 1292.8,1035.1 1295.2,1035.6 1297.7,1035.7 1300.1,1035.7 1302.6,1036.1 1305.0,1036.7 1307.5,1037.3 1309.9,1037.0 1312.4,1038.0 1314.8,1038.3 1317.3,1038.4 1319.7,1038.2 1322.2,1039.2 1324.6,1039.1 1327.1,1039.6 1329.5,1039.7 1332.0,1040.1 1334.4,1040.0 1336.9,1040.7 1339.3,1040.9 1341.8,1041.1 1344.2,1041.0 1346.7,1040.9 1349.1,1041.1 1351.6,1041.2 1354.0,1041.9 1356.5,1042.0 1358.9,1042.1 1361.4,1042.3 1363.8,1042.6 1366.3,1042.4 1368.7,1042.2 1371.2,1042.8 1373.6,1042.4 1376.1,1042.9 1378.5,1042.6 1381.0,1043.3 1383.4,1043.1 1385.9,1043.0 1388.3,1043.7 1390.8,1043.0 1393.2,1043.9 1395.7,1043.8 1398.1,1043.3 1400.6,1043.9 1403.0,1043.9 1405.5,1044.2 1407.9,1044.0 1410.4,1043.9 1412.8,1044.5 1415.3,1043.8 1417.7,1044.5 1420.2,1043.9 1422.6,1044.1 1425.1,1044.0 1427.5,1044.8 1430.0,1044.5 1432.4,1044.8 1434.9,1044.4 1437.3,1044.9 1439.8,1044.8 1442.2,1044.4 1444.7,1044.8 1447.1,1045.1 1449.6,1044.6 1452.0,1045.1 1454.5,1044.8 1456.9,1044.9 1459.4,1045.4 1461.8,1045.5 1464.3,1045.6 1466.7,1045.1 1469.2,1045.3 1471.6,1045.5 1474.1,1045.5 1476.5,1045.3 1479.0,1045.7 1481.4,1045.3 1483.9,1045.8 1486.3,1045.4 1488.8,1045.1 1491.2,1045.7 1493.7,1045.2 1496.1,1045.7 1498.6,1045.1 1501.0,1046.0 1503.5,1045.6 1505.9,1045.8 1508.4,1045.3 1510.8,1045.8 1513.3,1045.6 1515.7,1045.5 1518.2,1046.0 1520.6,1045.3 1523.1,1045.7 1525.5,1045.4 1528.0,1046.1 1530.4,1046.2 1532.9,1045.4 1535.3,1045.8 1537.8,1045.8 1540.2,1046.1 1542.7,1046.1 1545.1,1045.8 1547.6,1046.3 1550.0,1045.7 1552.5,1045.6 1554.9,1046.3 1557.4,1045.7 1559.8,1045.7 1562.3,1046.0 1564.7,1045.9 1567.2,1045.8 1569.6,1046.5 1572.1,1046.1 1574.5,1046.4 1577.0,1045.9 1579.4,1046.5 1581.9,1045.9 1584.3,1046.5 1586.8,1046.3 1589.2,1046.6 1591.7,1046.4 1594.1,1046.3 1596.6,1046.3 1599.0,1046.6 1601.5,1046.2 1603.9,1045.9 1606.4,1046.7 1608.8,1046.6 1611.3,1046.5 1613.7,1046.5 1616.2,1046.1 1618.6,1046.3 1621.1,1046.6 1623.5,1046.8 1626.0,1046.8 1628.4,1046.1 1630.9,1046.6 1633.3,1046.5 1635.8,1046.3 1638.2,1046.1 1640.7,1046.1 1643.1,1046.4 1645.6,1046.5 1648.0,1046.3 1650.5,1046.4 1652.9,1046.6 1655.4,1046.8 1657.8,1046.6 1660.3,1046.2 1662.7,1046.9 1665.2,1046.4"/>
<polyline fill="none" stroke="#2a64a6" stroke-width="4.5" stroke-linejoin="round" points="442.6,1000.3 445.1,1000.5 447.5,1000.0 449.9,1000.7 452.4,1001.3 454.8,1001.0 457.3,1001.4 459.7,1001.5 462.2,1001.5 464.6,1001.9 467.1,1002.1 469.5,1002.5 472.0,1003.0 474.4,1003.2 476.9,1003.8 479.3,1003.8 481.8,1003.8 484.2,1004.6 486.7,1004.5 489.1,1004.7 491.6,1005.2 494.0,1005.3 496.5,1005.3 498.9,1005.8 501.4,1005.7 503.8,1006.6 506.3,1006.2 508.7,1007.1 511.2,1006.5 513.6,1006.7 516.1,1007.5 518.5,1007.4 521.0,1007.9 523.4,1007.8 525.9,1008.7 528.4,1008.8 530.8,1009.0 533.3,1009.5 535.7,1009.8 538.2,1009.8 540.6,1010.0 543.1,1009.6 545.5,1009.9 548.0,1010.5 550.4,1011.2 552.9,1010.8 555.3,1011.3 557.8,1011.0 560.2,1011.6 562.7,1012.3 565.1,1012.2 567.6,1012.7 570.0,1012.2 572.5,1012.5 574.9,1012.7 577.4,1013.5 579.8,1013.1 582.3,1014.1 584.7,1013.7 587.2,1014.4 589.6,1014.3 592.1,1014.4 594.5,1015.1 597.0,1014.8 599.4,1015.3 601.9,1014.9 604.3,1015.8 606.8,1016.1 609.2,1015.5 611.7,1016.3 614.1,1016.0 616.6,1016.1 619.0,1016.4 621.5,1016.9 623.9,1017.3 626.4,1017.5 628.8,1017.6 631.3,1017.5 633.7,1017.6 636.2,1017.3 638.6,1018.0 641.1,1017.9 643.5,1017.9 646.0,1018.5 648.4,1018.0 650.9,1018.0 653.3,1018.1 655.8,1018.2 658.2,1018.7 660.7,1018.9 663.1,1018.4 665.6,1018.8 668.0,1018.9 670.5,1018.9 672.9,1018.8 675.4,1018.9 677.8,1018.4 680.3,1018.5 682.7,1018.8 685.2,1018.6 687.6,1019.0 690.1,1018.5 692.5,1018.9 695.0,1018.3 697.4,1018.1 699.9,1018.3 702.3,1018.1 704.8,1017.8 707.2,1018.0 709.7,1017.4 712.1,1017.5 714.6,1017.4 717.0,1016.8 719.5,1016.6 721.9,1016.6 724.4,1016.0 726.8,1015.2 729.3,1014.7 731.7,1014.3 734.2,1014.0 736.6,1013.3 739.1,1013.2 741.5,1012.5 744.0,1011.7 746.4,1011.2 748.9,1010.9 751.3,1009.5 753.8,1008.6 756.2,1007.8 758.7,1006.9 761.1,1006.4 763.6,1005.2 766.0,1003.8 768.5,1002.4 770.9,1001.0 773.4,999.7 775.8,998.9 778.3,997.2 780.7,995.2 783.2,993.9 785.6,991.5 788.1,990.0 790.5,987.8 793.0,985.4 795.4,983.7 797.9,981.3 800.3,978.5 802.8,975.5 805.2,973.1 807.7,969.9 810.1,966.9 812.6,963.0 815.0,960.2 817.5,955.7 819.9,951.9 822.4,948.0 824.8,943.4 827.3,938.8 829.7,934.5 832.2,929.7 834.6,923.8 837.1,918.2 839.5,912.7 842.0,906.2 844.4,899.9 846.9,893.5 849.3,886.2 851.8,878.7 854.2,871.0 856.7,863.4 859.1,855.5 861.6,846.8 864.0,837.1 866.5,828.1 868.9,818.4 871.4,808.1 873.8,798.1 876.3,787.2 878.7,776.3 881.2,764.3 883.6,753.0 886.1,740.6 888.5,727.7 891.0,714.4 893.4,701.4 895.9,687.4 898.3,673.9 900.8,659.6 903.2,644.8 905.7,630.2 908.1,614.2 910.6,599.3 913.0,583.6 915.5,567.0 917.9,551.0 920.4,534.4 922.8,518.3 925.3,501.8 927.7,484.7 930.2,468.2 932.6,451.0 935.1,434.5 937.5,417.3 940.0,401.1 942.4,384.0 944.9,367.1 947.3,350.9 949.8,335.3 952.2,319.6 954.7,303.9 957.1,288.3 959.6,274.2 962.0,259.8 964.5,245.4 966.9,232.3 969.4,219.8 971.8,207.1 974.3,195.6 976.7,185.1 979.2,175.4 981.6,166.2 984.1,157.0 986.5,149.8 989.0,142.7 991.4,136.7 993.9,131.3 996.3,127.4 998.8,123.7 1001.2,121.6 1003.7,119.8 1006.1,118.9 1008.6,119.4 1011.0,120.4 1013.5,122.1 1015.9,124.9 1018.4,128.6 1020.8,133.1 1023.3,138.0 1025.7,144.1 1028.2,151.1 1030.6,158.8 1033.1,167.1 1035.5,176.4 1038.0,185.8 1040.4,196.6 1042.9,207.5 1045.3,219.6 1047.8,231.9 1050.2,244.9 1052.7,258.0 1055.1,271.6 1057.6,286.6 1060.0,300.9 1062.5,315.9 1064.9,331.3 1067.4,347.1 1069.8,363.4 1072.3,379.7 1074.7,395.8 1077.2,412.6 1079.6,428.8 1082.1,445.8 1084.5,462.5 1087.0,479.3 1089.4,496.2 1091.9,513.3 1094.3,529.9 1096.8,546.0 1099.2,562.5 1101.7,579.3 1104.1,595.3 1106.6,611.2 1109.0,626.8 1111.5,642.3 1113.9,657.1 1116.4,671.8 1118.8,686.6 1121.3,700.6 1123.7,715.4 1126.2,728.6 1128.6,742.0 1131.1,755.2 1133.5,767.6 1136.0,779.3 1138.4,791.2 1140.9,802.5 1143.3,814.2 1145.8,824.9 1148.2,835.0 1150.7,844.9 1153.1,854.4 1155.6,863.9 1158.0,873.0 1160.5,881.7 1162.9,889.9 1165.4,897.8 1167.8,905.0 1170.3,912.1 1172.7,918.9 1175.2,926.1 1177.6,931.7 1180.1,937.7 1182.5,943.5 1185.0,949.5 1187.4,954.6 1189.9,959.1 1192.3,964.2 1194.8,968.7 1197.2,972.5 1199.7,976.2 1202.1,980.5 1204.6,983.8 1207.0,986.9 1209.5,990.8 1211.9,993.4 1214.4,996.3 1216.8,999.2 1219.3,1001.4 1221.7,1003.6 1224.2,1006.2 1226.6,1008.4 1229.1,1010.1 1231.5,1012.3 1234.0,1014.5 1236.4,1015.8 1238.9,1017.7 1241.3,1019.2 1243.8,1020.2 1246.2,1021.4 1248.7,1023.3 1251.1,1024.5 1253.6,1025.3 1256.0,1026.3 1258.5,1027.9 1260.9,1028.9 1263.4,1029.2 1265.8,1030.4 1268.3,1031.2 1270.7,1031.8 1273.2,1032.2 1275.6,1033.2 1278.1,1034.1 1280.5,1034.7 1283.0,1035.2 1285.4,1035.4 1287.9,1036.0 1290.3,1036.6 1292.8,1037.2 1295.2,1037.6 1297.7,1038.6 1300.1,1038.3 1302.6,1039.5 1305.0,1039.2 1307.5,1040.1 1309.9,1039.9 1312.4,1040.5 1314.8,1040.7 1317.3,1040.6 1319.7,1041.6 1322.2,1041.9 1324.6,1041.7 1327.1,1042.4 1329.5,1042.4 1332.0,1043.1 1334.4,1042.5 1336.9,1043.0 1339.3,1043.1 1341.8,1043.6 1344.2,1043.9 1346.7,1044.2 1349.1,1044.1 1351.6,1044.1 1354.0,1044.7 1356.5,1044.2 1358.9,1044.5 1361.4,1045.1 1363.8,1045.0 1366.3,1045.6 1368.7,1044.9 1371.2,1045.4 1373.6,1045.3 1376.1,1045.2 1378.5,1045.4 1381.0,1045.5 1383.4,1045.9 1385.9,1046.0 1388.3,1046.2 1390.8,1046.1 1393.2,1046.6 1395.7,1046.5 1398.1,1047.0 1400.6,1046.3 1403.0,1046.7 1405.5,1046.8 1407.9,1046.8 1410.4,1047.3 1412.8,1046.8 1415.3,1047.4 1417.7,1047.0 1420.2,1047.1 1422.6,1047.4 1425.1,1047.4 1427.5,1047.2 1430.0,1047.1 1432.4,1047.9 1434.9,1047.5 1437.3,1047.3 1439.8,1047.8 1442.2,1047.8 1444.7,1047.6 1447.1,1047.7 1449.6,1048.2 1452.0,1047.8 1454.5,1047.9 1456.9,1048.4 1459.4,1047.9 1461.8,1048.0 1464.3,1047.8 1466.7,1048.3 1469.2,1048.3 1471.6,1048.2 1474.1,1048.2 1476.5,1048.1 1479.0,1048.6 1481.4,1048.3 1483.9,1048.7 1486.3,1048.3 1488.8,1048.7 1491.2,1048.1 1493.7,1048.3 1496.1,1049.0 1498.6,1048.7 1501.0,1048.8 1503.5,1048.6 1505.9,1048.6 1508.4,1048.4 1510.8,1048.4 1513.3,1048.9 1515.7,1048.9 1518.2,1048.6 1520.6,1048.9 1523.1,1048.5 1525.5,1049.0 1528.0,1048.6 1530.4,1048.9 1532.9,1048.7 1535.3,1049.0 1537.8,1048.6 1540.2,1049.0 1542.7,1049.1 1545.1,1048.7 1547.6,1048.9 1550.0,1049.2 1552.5,1049.1 1554.9,1049.2 1557.4,1049.4 1559.8,1049.2 1562.3,1048.9 1564.7,1049.1 1567.2,1049.5 1569.6,1049.3 1572.1,1049.5 1574.5,1049.1 1577.0,1049.2 1579.4,1049.7 1581.9,1049.6 1584.3,1049.4 1586.8,1049.0 1589.2,1049.4 1591.7,1048.9 1594.1,1049.8 1596.6,1049.8 1599.0,1049.6 1601.5,1049.2 1603.9,1049.8 1606.4,1049.2 1608.8,1049.8 1611.3,1049.5 1613.7,1049.1 1616.2,1049.9 1618.6,1049.5 1621.1,1049.9 1623.5,1049.7 1626.0,1049.6 1628.4,1049.9 1630.9,1049.4 1633.3,1050.0 1635.8,1049.5 1638.2,1049.2 1640.7,1049.5 1643.1,1049.3 1645.6,1049.3 1648.0,1049.8 1650.5,1049.4 1652.9,1049.5 1655.4,1049.6 1657.8,1049.6 1660.3,1050.2 1662.7,1050.2 1665.2,1050.2"/>
<rect x="319.00" y="32.30" width="6.00" height="1189.70" fill="#000"/>
<line x1="322.00" y1="1216.00" x2="322.00" y2="1227.70" stroke="#000" stroke-width="5.6" stroke-linecap="round"/>
<rect x="300.00" y="1213.50" width="1496.60" height="5.60" fill="#000"/>
<line x1="298.90" y1="1216.00" x2="302.00" y2="1216.00" stroke="#000" stroke-width="5.8" stroke-linecap="round"/>
<line x1="298.90" y1="1216.00" x2="322.00" y2="1216.00" stroke="#000" stroke-width="5.8" stroke-linecap="round"/>
<line x1="298.90" y1="1034.24" x2="322.00" y2="1034.24" stroke="#000" stroke-width="5.8" stroke-linecap="round"/>
<line x1="298.90" y1="852.48" x2="322.00" y2="852.48" stroke="#000" stroke-width="5.8" stroke-linecap="round"/>
<line x1="298.90" y1="670.72" x2="322.00" y2="670.72" stroke="#000" stroke-width="5.8" stroke-linecap="round"/>
<line x1="298.90" y1="488.96" x2="322.00" y2="488.96" stroke="#000" stroke-width="5.8" stroke-linecap="round"/>
<line x1="298.90" y1="307.20" x2="322.00" y2="307.20" stroke="#000" stroke-width="5.8" stroke-linecap="round"/>
<line x1="298.90" y1="125.44" x2="322.00" y2="125.44" stroke="#000" stroke-width="5.8" stroke-linecap="round"/>
<line x1="310.50" y1="1125.12" x2="322.00" y2="1125.12" stroke="#000" stroke-width="5.0" stroke-linecap="round"/>
<line x1="310.50" y1="943.36" x2="322.00" y2="943.36" stroke="#000" stroke-width="5.0" stroke-linecap="round"/>
<line x1="310.50" y1="761.60" x2="322.00" y2="761.60" stroke="#000" stroke-width="5.0" stroke-linecap="round"/>
<line x1="310.50" y1="579.84" x2="322.00" y2="579.84" stroke="#000" stroke-width="5.0" stroke-linecap="round"/>
<line x1="310.50" y1="398.08" x2="322.00" y2="398.08" stroke="#000" stroke-width="5.0" stroke-linecap="round"/>
<line x1="310.50" y1="216.32" x2="322.00" y2="216.32" stroke="#000" stroke-width="5.0" stroke-linecap="round"/>
<line x1="310.50" y1="34.56" x2="322.00" y2="34.56" stroke="#000" stroke-width="5.0" stroke-linecap="round"/>
<line x1="444.60" y1="1216.30" x2="444.60" y2="1239.90" stroke="#000" stroke-width="5.2" stroke-linecap="round"/>
<line x1="689.98" y1="1216.30" x2="689.98" y2="1239.90" stroke="#000" stroke-width="5.2" stroke-linecap="round"/>
<line x1="935.36" y1="1216.30" x2="935.36" y2="1239.90" stroke="#000" stroke-width="5.2" stroke-linecap="round"/>
<line x1="1180.74" y1="1216.30" x2="1180.74" y2="1239.90" stroke="#000" stroke-width="5.2" stroke-linecap="round"/>
<line x1="1426.12" y1="1216.30" x2="1426.12" y2="1239.90" stroke="#000" stroke-width="5.2" stroke-linecap="round"/>
<line x1="1671.50" y1="1216.30" x2="1671.50" y2="1239.90" stroke="#000" stroke-width="5.2" stroke-linecap="round"/>
<line x1="567.29" y1="1216.30" x2="567.29" y2="1227.90" stroke="#000" stroke-width="5.2" stroke-linecap="round"/>
<line x1="812.67" y1="1216.30" x2="812.67" y2="1227.90" stroke="#000" stroke-width="5.2" stroke-linecap="round"/>
<line x1="1058.05" y1="1216.30" x2="1058.05" y2="1227.90" stroke="#000" stroke-width="5.2" stroke-linecap="round"/>
<line x1="1303.43" y1="1216.30" x2="1303.43" y2="1227.90" stroke="#000" stroke-width="5.2" stroke-linecap="round"/>
<line x1="1548.81" y1="1216.30" x2="1548.81" y2="1227.90" stroke="#000" stroke-width="5.2" stroke-linecap="round"/>
<line x1="1793.80" y1="1216.30" x2="1793.80" y2="1227.90" stroke="#000" stroke-width="5.2" stroke-linecap="round"/>
<rect x="1403.30" y="245.00" width="4.40" height="239.00" fill="#000"/>
<polygon points="1405.5,217.6 1396.5,251 1414.5,251" fill="#000" shape-rendering="geometricPrecision"/>
<rect x="318.90" y="1680.00" width="5.20" height="1190.00" fill="#000"/>
<line x1="321.50" y1="2864.00" x2="321.50" y2="2876.00" stroke="#000" stroke-width="5.0" stroke-linecap="round"/>
<rect x="310.00" y="2861.70" width="1486.80" height="6.00" fill="#000"/>
<line x1="310.10" y1="2864.70" x2="312.00" y2="2864.70" stroke="#000" stroke-width="5.4" stroke-linecap="round"/>
<line x1="298.40" y1="2773.70" x2="321.50" y2="2773.70" stroke="#000" stroke-width="5.6" stroke-linecap="round"/>
<line x1="298.40" y1="2591.85" x2="321.50" y2="2591.85" stroke="#000" stroke-width="5.6" stroke-linecap="round"/>
<line x1="298.40" y1="2410.00" x2="321.50" y2="2410.00" stroke="#000" stroke-width="5.6" stroke-linecap="round"/>
<line x1="298.40" y1="2228.15" x2="321.50" y2="2228.15" stroke="#000" stroke-width="5.6" stroke-linecap="round"/>
<line x1="298.40" y1="2046.30" x2="321.50" y2="2046.30" stroke="#000" stroke-width="5.6" stroke-linecap="round"/>
<line x1="298.40" y1="1864.45" x2="321.50" y2="1864.45" stroke="#000" stroke-width="5.6" stroke-linecap="round"/>
<line x1="298.40" y1="1682.60" x2="321.50" y2="1682.60" stroke="#000" stroke-width="5.6" stroke-linecap="round"/>
<line x1="310.00" y1="2682.77" x2="321.50" y2="2682.77" stroke="#000" stroke-width="5.0" stroke-linecap="round"/>
<line x1="310.00" y1="2500.92" x2="321.50" y2="2500.92" stroke="#000" stroke-width="5.0" stroke-linecap="round"/>
<line x1="310.00" y1="2319.07" x2="321.50" y2="2319.07" stroke="#000" stroke-width="5.0" stroke-linecap="round"/>
<line x1="310.00" y1="2137.22" x2="321.50" y2="2137.22" stroke="#000" stroke-width="5.0" stroke-linecap="round"/>
<line x1="310.00" y1="1955.38" x2="321.50" y2="1955.38" stroke="#000" stroke-width="5.0" stroke-linecap="round"/>
<line x1="310.00" y1="1773.52" x2="321.50" y2="1773.52" stroke="#000" stroke-width="5.0" stroke-linecap="round"/>
<line x1="394.80" y1="2864.70" x2="394.80" y2="2888.20" stroke="#000" stroke-width="5.2" stroke-linecap="round"/>
<line x1="638.55" y1="2864.70" x2="638.55" y2="2888.20" stroke="#000" stroke-width="5.2" stroke-linecap="round"/>
<line x1="882.30" y1="2864.70" x2="882.30" y2="2888.20" stroke="#000" stroke-width="5.2" stroke-linecap="round"/>
<line x1="1126.05" y1="2864.70" x2="1126.05" y2="2888.20" stroke="#000" stroke-width="5.2" stroke-linecap="round"/>
<line x1="1369.80" y1="2864.70" x2="1369.80" y2="2888.20" stroke="#000" stroke-width="5.2" stroke-linecap="round"/>
<line x1="1613.55" y1="2864.70" x2="1613.55" y2="2888.20" stroke="#000" stroke-width="5.2" stroke-linecap="round"/>
<line x1="340.72" y1="2864.70" x2="340.72" y2="2876.00" stroke="#000" stroke-width="5.0" stroke-linecap="round"/>
<line x1="357.04" y1="2864.70" x2="357.04" y2="2876.00" stroke="#000" stroke-width="5.0" stroke-linecap="round"/>
<line x1="371.18" y1="2864.70" x2="371.18" y2="2876.00" stroke="#000" stroke-width="5.0" stroke-linecap="round"/>
<line x1="383.65" y1="2864.70" x2="383.65" y2="2876.00" stroke="#000" stroke-width="5.0" stroke-linecap="round"/>
<line x1="468.18" y1="2864.70" x2="468.18" y2="2876.00" stroke="#000" stroke-width="5.0" stroke-linecap="round"/>
<line x1="511.10" y1="2864.70" x2="511.10" y2="2876.00" stroke="#000" stroke-width="5.0" stroke-linecap="round"/>
<line x1="541.55" y1="2864.70" x2="541.55" y2="2876.00" stroke="#000" stroke-width="5.0" stroke-linecap="round"/>
<line x1="565.17" y1="2864.70" x2="565.17" y2="2876.00" stroke="#000" stroke-width="5.0" stroke-linecap="round"/>
<line x1="584.47" y1="2864.70" x2="584.47" y2="2876.00" stroke="#000" stroke-width="5.0" stroke-linecap="round"/>
<line x1="600.79" y1="2864.70" x2="600.79" y2="2876.00" stroke="#000" stroke-width="5.0" stroke-linecap="round"/>
<line x1="614.93" y1="2864.70" x2="614.93" y2="2876.00" stroke="#000" stroke-width="5.0" stroke-linecap="round"/>
<line x1="627.40" y1="2864.70" x2="627.40" y2="2876.00" stroke="#000" stroke-width="5.0" stroke-linecap="round"/>
<line x1="711.93" y1="2864.70" x2="711.93" y2="2876.00" stroke="#000" stroke-width="5.0" stroke-linecap="round"/>
<line x1="754.85" y1="2864.70" x2="754.85" y2="2876.00" stroke="#000" stroke-width="5.0" stroke-linecap="round"/>
<line x1="785.30" y1="2864.70" x2="785.30" y2="2876.00" stroke="#000" stroke-width="5.0" stroke-linecap="round"/>
<line x1="808.92" y1="2864.70" x2="808.92" y2="2876.00" stroke="#000" stroke-width="5.0" stroke-linecap="round"/>
<line x1="828.22" y1="2864.70" x2="828.22" y2="2876.00" stroke="#000" stroke-width="5.0" stroke-linecap="round"/>
<line x1="844.54" y1="2864.70" x2="844.54" y2="2876.00" stroke="#000" stroke-width="5.0" stroke-linecap="round"/>
<line x1="858.68" y1="2864.70" x2="858.68" y2="2876.00" stroke="#000" stroke-width="5.0" stroke-linecap="round"/>
<line x1="871.15" y1="2864.70" x2="871.15" y2="2876.00" stroke="#000" stroke-width="5.0" stroke-linecap="round"/>
<line x1="955.68" y1="2864.70" x2="955.68" y2="2876.00" stroke="#000" stroke-width="5.0" stroke-linecap="round"/>
<line x1="998.60" y1="2864.70" x2="998.60" y2="2876.00" stroke="#000" stroke-width="5.0" stroke-linecap="round"/>
<line x1="1029.05" y1="2864.70" x2="1029.05" y2="2876.00" stroke="#000" stroke-width="5.0" stroke-linecap="round"/>
<line x1="1052.67" y1="2864.70" x2="1052.67" y2="2876.00" stroke="#000" stroke-width="5.0" stroke-linecap="round"/>
<line x1="1071.97" y1="2864.70" x2="1071.97" y2="2876.00" stroke="#000" stroke-width="5.0" stroke-linecap="round"/>
<line x1="1088.29" y1="2864.70" x2="1088.29" y2="2876.00" stroke="#000" stroke-width="5.0" stroke-linecap="round"/>
<line x1="1102.43" y1="2864.70" x2="1102.43" y2="2876.00" stroke="#000" stroke-width="5.0" stroke-linecap="round"/>
<line x1="1114.90" y1="2864.70" x2="1114.90" y2="2876.00" stroke="#000" stroke-width="5.0" stroke-linecap="round"/>
<line x1="1199.43" y1="2864.70" x2="1199.43" y2="2876.00" stroke="#000" stroke-width="5.0" stroke-linecap="round"/>
<line x1="1242.35" y1="2864.70" x2="1242.35" y2="2876.00" stroke="#000" stroke-width="5.0" stroke-linecap="round"/>
<line x1="1272.80" y1="2864.70" x2="1272.80" y2="2876.00" stroke="#000" stroke-width="5.0" stroke-linecap="round"/>
<line x1="1296.42" y1="2864.70" x2="1296.42" y2="2876.00" stroke="#000" stroke-width="5.0" stroke-linecap="round"/>
<line x1="1315.72" y1="2864.70" x2="1315.72" y2="2876.00" stroke="#000" stroke-width="5.0" stroke-linecap="round"/>
<line x1="1332.04" y1="2864.70" x2="1332.04" y2="2876.00" stroke="#000" stroke-width="5.0" stroke-linecap="round"/>
<line x1="1346.18" y1="2864.70" x2="1346.18" y2="2876.00" stroke="#000" stroke-width="5.0" stroke-linecap="round"/>
<line x1="1358.65" y1="2864.70" x2="1358.65" y2="2876.00" stroke="#000" stroke-width="5.0" stroke-linecap="round"/>
<line x1="1443.18" y1="2864.70" x2="1443.18" y2="2876.00" stroke="#000" stroke-width="5.0" stroke-linecap="round"/>
<line x1="1486.10" y1="2864.70" x2="1486.10" y2="2876.00" stroke="#000" stroke-width="5.0" stroke-linecap="round"/>
<line x1="1516.55" y1="2864.70" x2="1516.55" y2="2876.00" stroke="#000" stroke-width="5.0" stroke-linecap="round"/>
<line x1="1540.17" y1="2864.70" x2="1540.17" y2="2876.00" stroke="#000" stroke-width="5.0" stroke-linecap="round"/>
<line x1="1559.47" y1="2864.70" x2="1559.47" y2="2876.00" stroke="#000" stroke-width="5.0" stroke-linecap="round"/>
<line x1="1575.79" y1="2864.70" x2="1575.79" y2="2876.00" stroke="#000" stroke-width="5.0" stroke-linecap="round"/>
<line x1="1589.93" y1="2864.70" x2="1589.93" y2="2876.00" stroke="#000" stroke-width="5.0" stroke-linecap="round"/>
<line x1="1602.40" y1="2864.70" x2="1602.40" y2="2876.00" stroke="#000" stroke-width="5.0" stroke-linecap="round"/>
<line x1="1686.93" y1="2864.70" x2="1686.93" y2="2876.00" stroke="#000" stroke-width="5.0" stroke-linecap="round"/>
<line x1="1729.85" y1="2864.70" x2="1729.85" y2="2876.00" stroke="#000" stroke-width="5.0" stroke-linecap="round"/>
<line x1="1760.30" y1="2864.70" x2="1760.30" y2="2876.00" stroke="#000" stroke-width="5.0" stroke-linecap="round"/>
<line x1="1783.92" y1="2864.70" x2="1783.92" y2="2876.00" stroke="#000" stroke-width="5.0" stroke-linecap="round"/>
<rect x="381.70" y="2690.30" width="26.40" height="26.60" fill="#000"/>
<rect x="393.90" y="2689.10" width="2.00" height="29.00" fill="#000"/>
<line x1="368.90" y1="2699.75" x2="420.90" y2="2699.75" stroke="#000" stroke-width="3.9" stroke-linecap="round"/>
<line x1="368.90" y1="2707.45" x2="420.90" y2="2707.45" stroke="#000" stroke-width="3.9" stroke-linecap="round"/>
<rect x="455.10" y="2678.00" width="26.40" height="26.60" fill="#000"/>
<rect x="467.30" y="2676.80" width="2.00" height="29.00" fill="#000"/>
<line x1="442.30" y1="2690.30" x2="494.30" y2="2690.30" stroke="#000" stroke-width="3.9" stroke-linecap="round"/>
<line x1="442.30" y1="2692.30" x2="494.30" y2="2692.30" stroke="#000" stroke-width="3.9" stroke-linecap="round"/>
<rect x="551.80" y="2663.80" width="26.40" height="26.60" fill="#000"/>
<rect x="564.00" y="2662.60" width="2.00" height="29.00" fill="#000"/>
<line x1="539.00" y1="2676.10" x2="591.00" y2="2676.10" stroke="#000" stroke-width="3.9" stroke-linecap="round"/>
<line x1="539.00" y1="2678.10" x2="591.00" y2="2678.10" stroke="#000" stroke-width="3.9" stroke-linecap="round"/>
<rect x="625.50" y="2648.60" width="26.40" height="26.60" fill="#000"/>
<rect x="637.70" y="2647.40" width="2.00" height="29.00" fill="#000"/>
<line x1="612.70" y1="2659.90" x2="664.70" y2="2659.90" stroke="#000" stroke-width="3.9" stroke-linecap="round"/>
<line x1="612.70" y1="2663.90" x2="664.70" y2="2663.90" stroke="#000" stroke-width="3.9" stroke-linecap="round"/>
<rect x="698.70" y="2631.00" width="26.40" height="26.60" fill="#000"/>
<rect x="710.90" y="2629.80" width="2.00" height="29.00" fill="#000"/>
<line x1="685.90" y1="2640.80" x2="737.90" y2="2640.80" stroke="#000" stroke-width="3.9" stroke-linecap="round"/>
<line x1="685.90" y1="2647.80" x2="737.90" y2="2647.80" stroke="#000" stroke-width="3.9" stroke-linecap="round"/>
<rect x="795.80" y="2612.90" width="26.40" height="26.60" fill="#000"/>
<rect x="808.00" y="2611.70" width="2.00" height="29.00" fill="#000"/>
<line x1="783.00" y1="2625.20" x2="835.00" y2="2625.20" stroke="#000" stroke-width="3.9" stroke-linecap="round"/>
<line x1="783.00" y1="2627.20" x2="835.00" y2="2627.20" stroke="#000" stroke-width="3.9" stroke-linecap="round"/>
<rect x="869.50" y="2583.80" width="26.40" height="26.60" fill="#000"/>
<rect x="881.70" y="2582.60" width="2.00" height="29.00" fill="#000"/>
<line x1="856.70" y1="2583.10" x2="908.70" y2="2583.10" stroke="#000" stroke-width="3.9" stroke-linecap="round"/>
<line x1="856.70" y1="2611.10" x2="908.70" y2="2611.10" stroke="#000" stroke-width="3.9" stroke-linecap="round"/>
<rect x="942.40" y="2539.00" width="26.40" height="26.60" fill="#000"/>
<rect x="954.60" y="2537.80" width="2.00" height="29.00" fill="#000"/>
<line x1="929.60" y1="2548.70" x2="981.60" y2="2548.70" stroke="#000" stroke-width="3.9" stroke-linecap="round"/>
<line x1="929.60" y1="2555.90" x2="981.60" y2="2555.90" stroke="#000" stroke-width="3.9" stroke-linecap="round"/>
<rect x="1039.30" y="2373.00" width="26.40" height="26.60" fill="#000"/>
<rect x="1051.50" y="2371.80" width="2.00" height="29.00" fill="#000"/>
<line x1="1026.50" y1="2380.10" x2="1078.50" y2="2380.10" stroke="#000" stroke-width="3.9" stroke-linecap="round"/>
<line x1="1026.50" y1="2392.50" x2="1078.50" y2="2392.50" stroke="#000" stroke-width="3.9" stroke-linecap="round"/>
<rect x="1113.30" y="2189.20" width="26.40" height="26.60" fill="#000"/>
<rect x="1125.50" y="2188.00" width="2.00" height="29.00" fill="#000"/>
<line x1="1100.50" y1="2198.40" x2="1152.50" y2="2198.40" stroke="#000" stroke-width="3.9" stroke-linecap="round"/>
<line x1="1100.50" y1="2206.60" x2="1152.50" y2="2206.60" stroke="#000" stroke-width="3.9" stroke-linecap="round"/>
<rect x="1186.40" y="2067.30" width="26.40" height="26.60" fill="#000"/>
<rect x="1198.60" y="2066.10" width="2.00" height="29.00" fill="#000"/>
<line x1="1173.60" y1="2076.85" x2="1225.60" y2="2076.85" stroke="#000" stroke-width="3.9" stroke-linecap="round"/>
<line x1="1173.60" y1="2084.35" x2="1225.60" y2="2084.35" stroke="#000" stroke-width="3.9" stroke-linecap="round"/>
<rect x="1283.30" y="1925.00" width="26.40" height="26.60" fill="#000"/>
<rect x="1295.50" y="1923.80" width="2.00" height="29.00" fill="#000"/>
<line x1="1270.50" y1="1932.00" x2="1322.50" y2="1932.00" stroke="#000" stroke-width="3.9" stroke-linecap="round"/>
<line x1="1270.50" y1="1944.60" x2="1322.50" y2="1944.60" stroke="#000" stroke-width="3.9" stroke-linecap="round"/>
<rect x="1357.00" y="1831.00" width="26.40" height="26.60" fill="#000"/>
<rect x="1369.20" y="1829.80" width="2.00" height="29.00" fill="#000"/>
<line x1="1344.20" y1="1838.20" x2="1396.20" y2="1838.20" stroke="#000" stroke-width="3.9" stroke-linecap="round"/>
<line x1="1344.20" y1="1850.40" x2="1396.20" y2="1850.40" stroke="#000" stroke-width="3.9" stroke-linecap="round"/>
<rect x="1430.10" y="1807.80" width="26.40" height="26.60" fill="#000"/>
<rect x="1442.30" y="1806.60" width="2.00" height="29.00" fill="#000"/>
<line x1="1417.30" y1="1812.80" x2="1469.30" y2="1812.80" stroke="#000" stroke-width="3.9" stroke-linecap="round"/>
<line x1="1417.30" y1="1829.40" x2="1469.30" y2="1829.40" stroke="#000" stroke-width="3.9" stroke-linecap="round"/>
<rect x="1526.90" y="1787.20" width="26.40" height="26.60" fill="#000"/>
<rect x="1539.10" y="1786.00" width="2.00" height="29.00" fill="#000"/>
<line x1="1514.10" y1="1796.00" x2="1566.10" y2="1796.00" stroke="#000" stroke-width="3.9" stroke-linecap="round"/>
<line x1="1514.10" y1="1805.00" x2="1566.10" y2="1805.00" stroke="#000" stroke-width="3.9" stroke-linecap="round"/>
<rect x="1298.70" y="2128.20" width="2.60" height="549.80" fill="#000"/>
<rect x="1290.00" y="2674.90" width="622.80" height="3.20" fill="#000"/>
<rect x="1290.00" y="2675.40" width="10.00" height="2.80" fill="#000"/>
<rect x="1290.00" y="2610.97" width="10.00" height="2.80" fill="#000"/>
<rect x="1290.00" y="2546.54" width="10.00" height="2.80" fill="#000"/>
<rect x="1290.00" y="2482.11" width="10.00" height="2.80" fill="#000"/>
<rect x="1290.00" y="2417.68" width="10.00" height="2.80" fill="#000"/>
<rect x="1290.00" y="2353.25" width="10.00" height="2.80" fill="#000"/>
<rect x="1290.00" y="2288.82" width="10.00" height="2.80" fill="#000"/>
<rect x="1290.00" y="2224.39" width="10.00" height="2.80" fill="#000"/>
<rect x="1290.00" y="2159.96" width="10.00" height="2.80" fill="#000"/>
<rect x="1294.80" y="2643.39" width="5.20" height="2.40" fill="#000"/>
<rect x="1294.80" y="2578.96" width="5.20" height="2.40" fill="#000"/>
<rect x="1294.80" y="2514.53" width="5.20" height="2.40" fill="#000"/>
<rect x="1294.80" y="2450.10" width="5.20" height="2.40" fill="#000"/>
<rect x="1294.80" y="2385.67" width="5.20" height="2.40" fill="#000"/>
<rect x="1294.80" y="2321.24" width="5.20" height="2.40" fill="#000"/>
<rect x="1294.80" y="2256.81" width="5.20" height="2.40" fill="#000"/>
<rect x="1294.80" y="2192.38" width="5.20" height="2.40" fill="#000"/>
<rect x="1294.80" y="2127.95" width="5.20" height="2.40" fill="#000"/>
<rect x="1349.70" y="2676.50" width="2.20" height="13.00" fill="#000"/>
<rect x="1451.66" y="2676.50" width="2.20" height="13.00" fill="#000"/>
<rect x="1553.62" y="2676.50" width="2.20" height="13.00" fill="#000"/>
<rect x="1655.58" y="2676.50" width="2.20" height="13.00" fill="#000"/>
<rect x="1757.54" y="2676.50" width="2.20" height="13.00" fill="#000"/>
<rect x="1859.50" y="2676.50" width="2.20" height="13.00" fill="#000"/>
<rect x="1400.68" y="2676.50" width="2.20" height="6.90" fill="#000"/>
<rect x="1502.64" y="2676.50" width="2.20" height="6.90" fill="#000"/>
<rect x="1604.60" y="2676.50" width="2.20" height="6.90" fill="#000"/>
<rect x="1706.56" y="2676.50" width="2.20" height="6.90" fill="#000"/>
<rect x="1808.52" y="2676.50" width="2.20" height="6.90" fill="#000"/>
<rect x="1910.50" y="2676.50" width="2.20" height="6.90" fill="#000"/>
<rect x="1345.20" y="2601.20" width="11.20" height="12.80" fill="#000"/>
<rect x="1349.70" y="2579.30" width="2.20" height="55.90" fill="#000"/>
<rect x="1339.30" y="2578.40" width="23.00" height="1.80" fill="#000"/>
<rect x="1339.30" y="2634.30" width="23.00" height="1.80" fill="#000"/>
<rect x="1447.00" y="2368.10" width="11.20" height="12.80" fill="#000"/>
<rect x="1451.50" y="2347.40" width="2.20" height="54.60" fill="#000"/>
<rect x="1441.10" y="2346.50" width="23.00" height="1.80" fill="#000"/>
<rect x="1441.10" y="2401.10" width="23.00" height="1.80" fill="#000"/>
<rect x="1549.00" y="2278.00" width="11.20" height="12.80" fill="#000"/>
<rect x="1553.50" y="2275.40" width="2.20" height="18.10" fill="#000"/>
<rect x="1543.10" y="2274.50" width="23.00" height="1.80" fill="#000"/>
<rect x="1543.10" y="2292.60" width="23.00" height="1.80" fill="#000"/>
<rect x="1855.00" y="2178.60" width="11.20" height="12.80" fill="#000"/>
<rect x="1859.50" y="2177.80" width="2.20" height="14.60" fill="#000"/>
<rect x="1849.10" y="2176.90" width="23.00" height="1.80" fill="#000"/>
<rect x="1849.10" y="2191.50" width="23.00" height="1.80" fill="#000"/>
</g>
<g fill="#000" stroke="#000" stroke-linejoin="round" filter="url(#al)">
<text transform="translate(282.50 1236.70) scale(1.0000 1.0300)" font-size="67" text-anchor="end" stroke-width="0.87">0</text>
<text transform="translate(282.50 1054.94) scale(1.0000 1.0300)" font-size="67" text-anchor="end" stroke-width="0.87">2</text>
<text transform="translate(282.50 873.18) scale(1.0000 1.0300)" font-size="67" text-anchor="end" stroke-width="0.87">4</text>
<text transform="translate(282.50 691.42) scale(1.0000 1.0300)" font-size="67" text-anchor="end" stroke-width="0.87">6</text>
<text transform="translate(282.50 509.66) scale(1.0000 1.0300)" font-size="67" text-anchor="end" stroke-width="0.87">8</text>
<text transform="translate(282.50 327.90) scale(1.0000 1.0300)" font-size="67" text-anchor="end" stroke-width="0.87">10</text>
<text transform="translate(282.50 146.14) scale(1.0000 1.0300)" font-size="67" text-anchor="end" stroke-width="0.87">12</text>
<text transform="translate(444.60 1307.80) scale(1.0000 1.0300)" font-size="67" text-anchor="middle" stroke-width="0.87">-0.5</text>
<text transform="translate(689.98 1307.80) scale(1.0000 1.0300)" font-size="67" text-anchor="middle" stroke-width="0.87">-0.4</text>
<text transform="translate(935.36 1307.80) scale(1.0000 1.0300)" font-size="67" text-anchor="middle" stroke-width="0.87">-0.3</text>
<text transform="translate(1180.74 1307.80) scale(1.0000 1.0300)" font-size="67" text-anchor="middle" stroke-width="0.87">-0.2</text>
<text transform="translate(1426.12 1307.80) scale(1.0000 1.0300)" font-size="67" text-anchor="middle" stroke-width="0.87">-0.1</text>
<text transform="translate(1671.50 1307.80) scale(1.0000 1.0300)" font-size="67" text-anchor="middle" stroke-width="0.87">0.0</text>
<text transform="translate(1059.80 1447.00) scale(1.0000 0.9900)" font-size="100.5" text-anchor="middle" stroke-width="0.70">Potential (V)</text>
<text transform="translate(102.60 863.50) rotate(-90)" font-size="100.7" text-anchor="start" stroke-width="0.70">Current(<tspan font-family="'DejaVu Sans',sans-serif" font-size="91.6">µ</tspan>A)</text>
<text transform="translate(77.50 131.50) scale(0.9300 1.0000)" font-size="100" text-anchor="start" stroke-width="0.70">a</text>
<text transform="translate(53.50 1710.50) scale(1.0300 0.9700)" font-size="100" text-anchor="start" stroke-width="0.70">b</text>
<text transform="translate(1224.60 182.80) scale(1.0000 1.0150)" font-size="69.3" text-anchor="start" stroke-width="0.28" font-family="'Liberation Serif', serif" font-weight="bold">1000 µM BPA</text>
<text transform="translate(1252.60 577.20) scale(1.0000 1.0570)" font-size="72.3" text-anchor="start" stroke-width="0.29" font-family="'Liberation Serif', serif" font-weight="bold">0 µM BPA</text>
<text transform="translate(272.50 2794.40) scale(1.0000 1.0300)" font-size="67" text-anchor="end" stroke-width="0.87">5</text>
<text transform="translate(272.50 2612.55) scale(1.0000 1.0300)" font-size="67" text-anchor="end" stroke-width="0.87">6</text>
<text transform="translate(272.50 2430.70) scale(1.0000 1.0300)" font-size="67" text-anchor="end" stroke-width="0.87">7</text>
<text transform="translate(272.50 2248.85) scale(1.0000 1.0300)" font-size="67" text-anchor="end" stroke-width="0.87">8</text>
<text transform="translate(272.50 2067.00) scale(1.0000 1.0300)" font-size="67" text-anchor="end" stroke-width="0.87">9</text>
<text transform="translate(272.50 1885.15) scale(1.0000 1.0300)" font-size="67" text-anchor="end" stroke-width="0.87">10</text>
<text transform="translate(272.50 1703.30) scale(1.0000 1.0300)" font-size="67" text-anchor="end" stroke-width="0.87">11</text>
<text transform="translate(394.80 2957.30) scale(1.0000 1.0300)" font-size="67" text-anchor="middle" stroke-width="0.87">0.1</text>
<text transform="translate(638.55 2957.30) scale(1.0000 1.0300)" font-size="67" text-anchor="middle" stroke-width="0.87">1</text>
<text transform="translate(882.30 2957.30) scale(1.0000 1.0300)" font-size="67" text-anchor="middle" stroke-width="0.87">10</text>
<text transform="translate(1126.05 2957.30) scale(1.0000 1.0300)" font-size="67" text-anchor="middle" stroke-width="0.87">100</text>
<text transform="translate(1369.80 2957.30) scale(1.0000 1.0300)" font-size="67" text-anchor="middle" stroke-width="0.87">1,000</text>
<text transform="translate(1613.55 2957.30) scale(1.0000 1.0300)" font-size="67" text-anchor="middle" stroke-width="0.87">10,000</text>
<text transform="translate(1059.70 3112.80) scale(1.0000 0.9900)" font-size="100.1" text-anchor="middle" stroke-width="0.70">BPA (<tspan font-family="'DejaVu Sans',sans-serif" font-size="91.1">µ</tspan>M)</text>
<text transform="translate(119.00 2408.00) rotate(-90)" font-size="100.7" text-anchor="start" stroke-width="0.70">ip (<tspan font-family="'DejaVu Sans',sans-serif" font-size="91.6">µ</tspan>A)</text>
<text transform="translate(1284.50 2689.30) scale(1.0000 1.1100)" font-size="33" text-anchor="end" stroke-width="0.10">5.15</text>
<text transform="translate(1284.50 2624.87) scale(1.0000 1.1100)" font-size="33" text-anchor="end" stroke-width="0.10">5.20</text>
<text transform="translate(1284.50 2560.44) scale(1.0000 1.1100)" font-size="33" text-anchor="end" stroke-width="0.10">5.25</text>
<text transform="translate(1284.50 2496.01) scale(1.0000 1.1100)" font-size="33" text-anchor="end" stroke-width="0.10">5.30</text>
<text transform="translate(1284.50 2431.58) scale(1.0000 1.1100)" font-size="33" text-anchor="end" stroke-width="0.10">5.35</text>
<text transform="translate(1284.50 2367.15) scale(1.0000 1.1100)" font-size="33" text-anchor="end" stroke-width="0.10">5.40</text>
<text transform="translate(1284.50 2302.72) scale(1.0000 1.1100)" font-size="33" text-anchor="end" stroke-width="0.10">5.45</text>
<text transform="translate(1284.50 2238.29) scale(1.0000 1.1100)" font-size="33" text-anchor="end" stroke-width="0.10">5.50</text>
<text transform="translate(1284.50 2173.86) scale(1.0000 1.1100)" font-size="33" text-anchor="end" stroke-width="0.10">5.55</text>
<text transform="translate(1350.80 2724.40) scale(1.0000 1.1100)" font-size="33" text-anchor="middle" stroke-width="0.10">0.0</text>
<text transform="translate(1452.76 2724.40) scale(1.0000 1.1100)" font-size="33" text-anchor="middle" stroke-width="0.10">0.1</text>
<text transform="translate(1554.72 2724.40) scale(1.0000 1.1100)" font-size="33" text-anchor="middle" stroke-width="0.10">0.2</text>
<text transform="translate(1656.68 2724.40) scale(1.0000 1.1100)" font-size="33" text-anchor="middle" stroke-width="0.10">0.3</text>
<text transform="translate(1758.64 2724.40) scale(1.0000 1.1100)" font-size="33" text-anchor="middle" stroke-width="0.10">0.4</text>
<text transform="translate(1860.60 2724.40) scale(1.0000 1.1100)" font-size="33" text-anchor="middle" stroke-width="0.10">0.5</text>
<text transform="translate(1597.70 2786.10) scale(1.0000 1.1440)" font-size="56.6" text-anchor="middle" stroke-width="0.17">BPA (<tspan font-family="'DejaVu Sans',sans-serif" font-size="51.5">µ</tspan>M)</text>
<text transform="translate(1180.80 2475.00) rotate(-90) scale(1.0000 0.9570)" font-size="61.7" text-anchor="start" stroke-width="0.19">ip (<tspan font-family="'DejaVu Sans',sans-serif" font-size="56.1">µ</tspan>A)</text>
</g>
</svg>
</body></html>
